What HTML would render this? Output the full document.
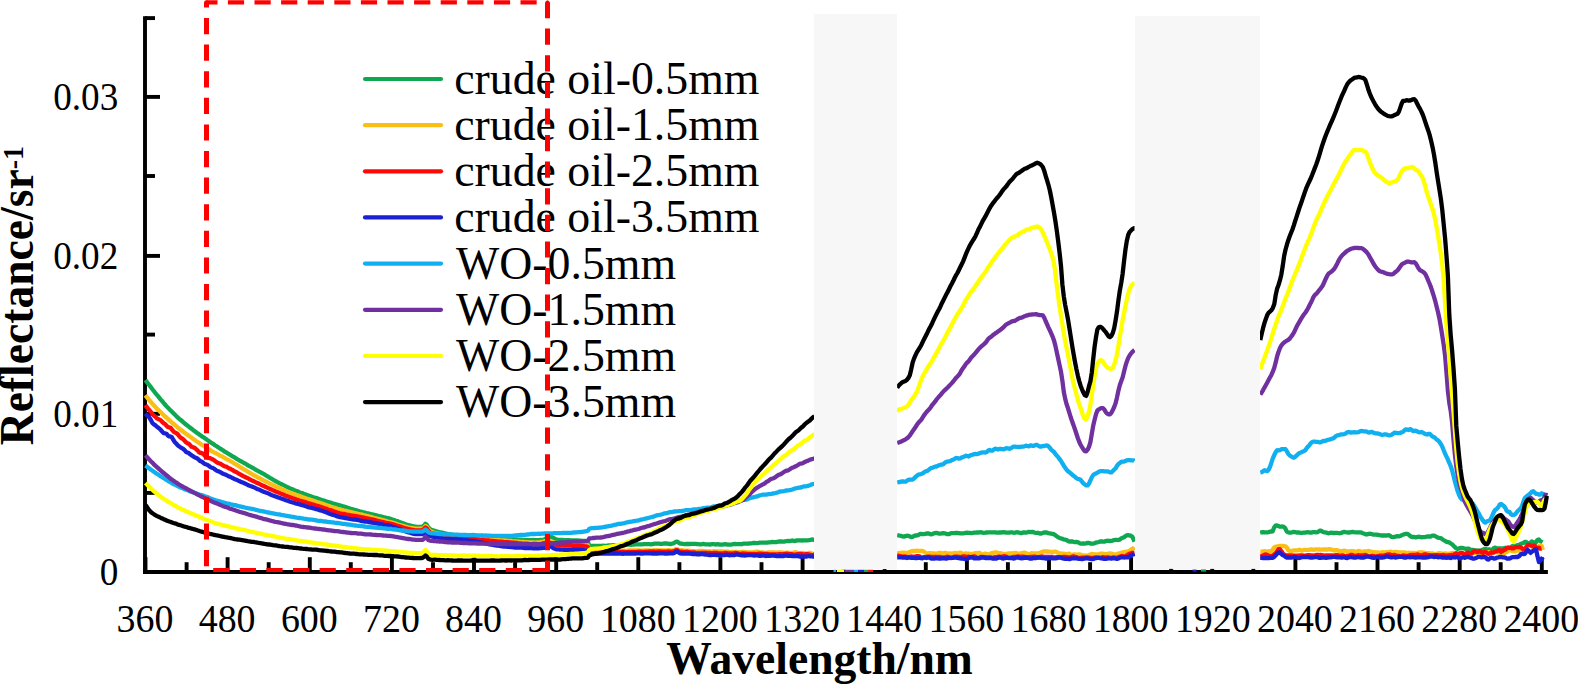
<!DOCTYPE html>
<html lang="en"><head><meta charset="utf-8"><title>Reflectance spectra</title>
<style>
html,body{margin:0;padding:0;background:#fff;}
body{width:1578px;height:684px;overflow:hidden;}
svg{display:block;}
svg text{font-family:"Liberation Serif","Times New Roman",serif;fill:#000;}
.tick text{font-size:37.9px;}
.legend text{font-size:45.8px;}
.title{font-size:45.6px;font-weight:bold;}
</style></head><body>
<svg width="1578" height="684" viewBox="0 0 1578 684">
<rect width="1578" height="684" fill="#fff"/>
<g stroke="#000" stroke-width="3.9" fill="none">
<line x1="145.5" y1="557.2" x2="145.5" y2="572.0"/>
<line x1="186.6" y1="562.2" x2="186.6" y2="572.0"/>
<line x1="227.6" y1="557.2" x2="227.6" y2="572.0"/>
<line x1="268.7" y1="562.2" x2="268.7" y2="572.0"/>
<line x1="309.8" y1="557.2" x2="309.8" y2="572.0"/>
<line x1="350.8" y1="562.2" x2="350.8" y2="572.0"/>
<line x1="391.9" y1="557.2" x2="391.9" y2="572.0"/>
<line x1="433.0" y1="562.2" x2="433.0" y2="572.0"/>
<line x1="474.0" y1="557.2" x2="474.0" y2="572.0"/>
<line x1="515.1" y1="562.2" x2="515.1" y2="572.0"/>
<line x1="556.2" y1="557.2" x2="556.2" y2="572.0"/>
<line x1="597.2" y1="562.2" x2="597.2" y2="572.0"/>
<line x1="638.3" y1="557.2" x2="638.3" y2="572.0"/>
<line x1="679.4" y1="562.2" x2="679.4" y2="572.0"/>
<line x1="720.4" y1="557.2" x2="720.4" y2="572.0"/>
<line x1="761.5" y1="562.2" x2="761.5" y2="572.0"/>
<line x1="802.6" y1="557.2" x2="802.6" y2="572.0"/>
<line x1="843.6" y1="562.2" x2="843.6" y2="572.0"/>
<line x1="884.7" y1="557.2" x2="884.7" y2="572.0"/>
<line x1="925.8" y1="562.2" x2="925.8" y2="572.0"/>
<line x1="966.9" y1="557.2" x2="966.9" y2="572.0"/>
<line x1="1007.9" y1="562.2" x2="1007.9" y2="572.0"/>
<line x1="1049.0" y1="557.2" x2="1049.0" y2="572.0"/>
<line x1="1090.1" y1="562.2" x2="1090.1" y2="572.0"/>
<line x1="1131.1" y1="557.2" x2="1131.1" y2="572.0"/>
<line x1="1172.2" y1="562.2" x2="1172.2" y2="572.0"/>
<line x1="1213.3" y1="557.2" x2="1213.3" y2="572.0"/>
<line x1="1254.3" y1="562.2" x2="1254.3" y2="572.0"/>
<line x1="1295.4" y1="557.2" x2="1295.4" y2="572.0"/>
<line x1="1336.5" y1="562.2" x2="1336.5" y2="572.0"/>
<line x1="1377.5" y1="557.2" x2="1377.5" y2="572.0"/>
<line x1="1418.6" y1="562.2" x2="1418.6" y2="572.0"/>
<line x1="1459.7" y1="557.2" x2="1459.7" y2="572.0"/>
<line x1="1500.7" y1="562.2" x2="1500.7" y2="572.0"/>
<line x1="1541.8" y1="557.2" x2="1541.8" y2="572.0"/>
<line x1="145" y1="492.9" x2="155" y2="492.9"/>
<line x1="145" y1="413.8" x2="160" y2="413.8"/>
<line x1="145" y1="334.6" x2="155" y2="334.6"/>
<line x1="145" y1="255.9" x2="160" y2="255.9"/>
<line x1="145" y1="176.0" x2="155" y2="176.0"/>
<line x1="145" y1="96.9" x2="160" y2="96.9"/>
<line x1="145" y1="18.1" x2="155" y2="18.1"/>
<line x1="143.05" y1="572.0" x2="1547.9" y2="572.0"/>
<line x1="145" y1="16.15" x2="145" y2="573.95"/>
</g>
<g fill="none" stroke-width="4.3" stroke-linejoin="round" stroke-linecap="butt">
<path d="M145.4,380.0 L146.8,381.9 L148.2,383.7 L149.6,385.5 L151.0,387.4 L152.4,389.2 L153.8,391.0 L155.2,392.8 L156.6,394.5 L158.0,396.2 L159.4,397.9 L160.8,399.6 L162.2,401.2 L163.6,402.9 L165.0,404.5 L166.4,406.1 L167.8,407.6 L169.2,409.0 L170.6,410.4 L172.0,411.8 L173.4,413.2 L174.8,414.6 L176.2,416.0 L177.6,417.3 L179.0,418.6 L180.4,419.7 L181.8,420.8 L183.2,422.1 L184.6,423.3 L186.0,424.5 L187.4,425.5 L188.8,426.6 L190.2,427.7 L191.6,428.8 L193.0,429.9 L194.4,430.9 L195.8,432.0 L197.2,433.0 L198.6,433.9 L200.0,434.9 L201.4,435.9 L202.8,436.9 L204.2,437.8 L205.6,438.8 L207.0,439.8 L208.4,440.7 L209.8,441.7 L211.2,442.7 L212.6,443.6 L214.0,444.6 L215.4,445.5 L216.8,446.3 L218.2,447.3 L219.6,448.2 L221.0,449.1 L222.4,450.0 L223.8,450.9 L225.2,451.9 L226.6,452.7 L228.0,453.5 L229.4,454.4 L230.8,455.2 L232.2,456.1 L233.6,456.9 L235.0,457.7 L236.4,458.6 L237.8,459.5 L239.2,460.3 L240.6,461.0 L242.0,461.8 L243.4,462.7 L244.8,463.4 L246.2,464.2 L247.6,465.1 L249.0,466.0 L250.4,466.7 L251.8,467.4 L253.2,468.2 L254.6,469.0 L256.0,469.9 L257.4,470.6 L258.8,471.3 L260.2,472.1 L261.6,472.9 L263.0,473.7 L264.4,474.4 L265.8,475.3 L267.2,476.1 L268.6,477.0 L270.0,477.9 L271.4,478.6 L272.8,479.5 L274.2,480.3 L275.6,481.1 L277.0,481.9 L278.4,482.6 L279.8,483.4 L281.2,484.1 L282.6,484.7 L284.0,485.4 L285.4,486.1 L286.8,486.8 L288.2,487.5 L289.6,488.2 L291.0,488.7 L292.4,489.2 L293.8,489.9 L295.2,490.5 L296.6,491.0 L298.0,491.6 L299.4,492.2 L300.8,492.7 L302.2,493.1 L303.6,493.7 L305.0,494.2 L306.4,494.7 L307.8,495.2 L309.2,495.7 L310.6,496.2 L312.0,496.7 L313.4,497.2 L314.8,497.6 L316.2,498.0 L317.6,498.4 L319.0,498.9 L320.4,499.4 L321.8,499.9 L323.2,500.4 L324.6,500.8 L326.0,501.3 L327.4,501.7 L328.8,502.2 L330.2,502.5 L331.6,502.9 L333.0,503.4 L334.4,503.9 L335.8,504.2 L337.2,504.6 L338.6,504.9 L340.0,505.4 L341.4,505.8 L342.8,506.2 L344.2,506.6 L345.6,507.0 L347.0,507.5 L348.4,507.9 L349.8,508.4 L351.2,508.9 L352.6,509.3 L354.0,509.7 L355.4,510.0 L356.8,510.4 L358.2,510.9 L359.6,511.3 L361.0,511.6 L362.4,512.0 L363.8,512.3 L365.2,512.7 L366.6,513.1 L368.0,513.4 L369.4,513.7 L370.8,514.1 L372.2,514.5 L373.6,514.7 L375.0,515.0 L376.4,515.3 L377.8,515.7 L379.2,516.1 L380.6,516.4 L382.0,516.7 L383.4,517.1 L384.8,517.4 L386.2,517.8 L387.6,518.1 L389.0,518.4 L390.4,518.8 L391.8,519.3 L393.2,519.7 L394.6,520.2 L396.0,520.7 L397.4,521.1 L398.8,521.7 L400.2,522.2 L401.6,522.7 L403.0,523.2 L404.4,523.8 L405.8,524.3 L407.2,524.7 L408.6,525.1 L410.0,525.4 L411.4,525.8 L412.8,526.2 L414.2,526.5 L415.6,526.6 L417.0,526.8 L418.4,526.9 L419.8,526.9 L421.2,526.8 L422.6,526.6 L424.0,525.6 L425.4,523.7 L426.8,524.7 L428.2,527.2 L429.6,528.6 L431.0,529.7 L432.4,530.2 L433.8,530.5 L435.2,530.9 L436.6,531.4 L438.0,531.8 L439.4,532.2 L440.8,532.5 L442.2,532.7 L443.6,533.0 L445.0,533.4 L446.4,533.8 L447.8,534.0 L449.2,534.3 L450.6,534.4 L452.0,534.6 L453.4,534.9 L454.8,535.1 L456.2,535.3 L457.6,535.5 L459.0,535.8 L460.4,535.9 L461.8,536.0 L463.2,536.1 L464.6,536.2 L466.0,536.4 L467.4,536.6 L468.8,536.7 L470.2,536.9 L471.6,537.1 L473.0,537.2 L474.4,537.2 L475.8,537.3 L477.2,537.4 L478.6,537.5 L480.0,537.5 L481.4,537.7 L482.8,537.8 L484.2,537.9 L485.6,538.0 L487.0,538.1 L488.4,538.2 L489.8,538.2 L491.2,538.1 L492.6,538.2 L494.0,538.2 L495.4,538.2 L496.8,538.4 L498.2,538.7 L499.6,538.7 L501.0,538.6 L502.4,538.7 L503.8,538.9 L505.2,539.0 L506.6,539.0 L508.0,539.1 L509.4,539.2 L510.8,539.3 L512.2,539.3 L513.6,539.3 L515.0,539.4 L516.4,539.5 L517.8,539.6 L519.2,539.6 L520.6,539.7 L522.0,539.7 L523.4,539.8 L524.8,539.9 L526.2,540.1 L527.6,540.1 L529.0,540.1 L530.4,540.1 L531.8,540.1 L533.2,540.0 L534.6,540.1 L536.0,540.2 L537.4,540.2 L538.8,540.1 L540.2,540.0 L541.6,540.0 L543.0,539.8 L544.4,539.5 L545.8,538.4 L547.2,537.2 L548.6,536.9 L550.0,536.9 L551.4,537.1 L552.8,537.6 L554.2,538.4 L555.6,539.2 L557.0,539.7 L558.4,539.8 L559.8,539.8 L561.2,539.9 L562.6,540.0 L564.0,540.1 L565.4,540.2 L566.8,540.2 L568.2,540.2 L569.6,540.2 L571.0,540.3 L572.4,540.5 L573.8,540.5 L575.2,540.5 L576.6,540.5 L578.0,540.5 L579.4,540.6 L580.8,540.7 L582.2,540.8 L583.6,540.9 L585.0,541.0 L586.4,541.2 L587.8,541.6 L589.2,545.5 L590.6,545.8 L592.0,545.8 L593.4,545.8 L594.8,545.9 L596.2,545.9 L597.6,545.8 L599.0,545.8 L600.4,545.8 L601.8,545.8 L603.2,545.7 L604.6,545.8 L606.0,545.8 L607.4,545.6 L608.8,545.5 L610.2,545.4 L611.6,545.3 L613.0,545.2 L614.4,545.2 L615.8,545.2 L617.2,545.2 L618.6,545.2 L620.0,545.2 L621.4,545.1 L622.8,545.1 L624.2,545.1 L625.6,544.9 L627.0,544.7 L628.4,544.6 L629.8,544.7 L631.2,544.8 L632.6,544.7 L634.0,544.5 L635.4,544.3 L636.8,544.4 L638.2,544.4 L639.6,544.4 L641.0,544.3 L642.4,544.3 L643.8,544.2 L645.2,544.2 L646.6,544.1 L648.0,544.1 L649.4,544.2 L650.8,544.3 L652.2,544.1 L653.6,543.9 L655.0,543.7 L656.4,543.7 L657.8,543.6 L659.2,543.6 L660.6,543.8 L662.0,543.9 L663.4,543.7 L664.8,543.5 L666.2,543.5 L667.6,543.6 L669.0,543.9 L670.4,544.0 L671.8,543.8 L673.2,543.4 L674.6,542.6 L676.0,541.7 L677.4,541.7 L678.8,542.8 L680.2,543.5 L681.6,543.6 L683.0,543.9 L684.4,544.1 L685.8,544.0 L687.2,543.9 L688.6,544.0 L690.0,544.0 L691.4,543.9 L692.8,543.9 L694.2,543.8 L695.6,543.9 L697.0,544.2 L698.4,544.2 L699.8,544.3 L701.2,544.3 L702.6,544.0 L704.0,544.0 L705.4,544.3 L706.8,544.4 L708.2,544.4 L709.6,544.5 L711.0,544.4 L712.4,544.1 L713.8,544.2 L715.2,544.5 L716.6,544.4 L718.0,544.2 L719.4,544.5 L720.8,544.7 L722.2,544.6 L723.6,544.4 L725.0,544.2 L726.4,544.4 L727.8,544.7 L729.2,544.7 L730.6,544.6 L732.0,544.4 L733.4,544.1 L734.8,543.9 L736.2,544.1 L737.6,544.2 L739.0,544.1 L740.4,544.2 L741.8,544.1 L743.2,543.7 L744.6,543.6 L746.0,543.7 L747.4,543.6 L748.8,543.5 L750.2,543.3 L751.6,543.3 L753.0,543.0 L754.4,543.0 L755.8,543.2 L757.2,543.2 L758.6,542.8 L760.0,542.7 L761.4,542.6 L762.8,542.6 L764.2,542.7 L765.6,542.7 L767.0,542.7 L768.4,542.4 L769.8,542.3 L771.2,542.1 L772.6,542.0 L774.0,542.1 L775.4,542.1 L776.8,542.0 L778.2,541.7 L779.6,541.5 L781.0,541.5 L782.4,541.7 L783.8,541.6 L785.2,541.3 L786.6,541.1 L788.0,541.0 L789.4,541.1 L790.8,540.8 L792.2,540.5 L793.6,540.9 L795.0,541.0 L796.4,540.5 L797.8,540.3 L799.2,540.3 L800.6,540.4 L802.0,540.5 L803.4,540.3 L804.8,540.3 L806.2,540.4 L807.6,540.3 L809.0,540.2 L810.4,539.9 L811.8,539.5 L813.2,539.7 L814.5,540.2" stroke="#0FA850"/>
<path d="M897.1,535.0 L898.5,535.4 L899.9,535.7 L901.3,535.9 L902.7,536.4 L904.1,536.7 L905.5,536.1 L906.9,535.7 L908.3,535.9 L909.7,536.3 L911.1,537.0 L912.5,536.9 L913.9,536.0 L915.3,535.4 L916.7,535.5 L918.1,535.1 L919.5,534.2 L920.9,534.0 L922.3,534.1 L923.7,534.1 L925.1,533.9 L926.5,533.5 L927.9,533.3 L929.3,533.6 L930.7,534.3 L932.1,534.2 L933.5,533.6 L934.9,533.1 L936.3,532.9 L937.7,533.2 L939.1,533.6 L940.5,533.6 L941.9,533.4 L943.3,533.2 L944.7,533.3 L946.1,533.7 L947.5,534.2 L948.9,534.2 L950.3,533.6 L951.7,533.1 L953.1,533.2 L954.5,533.1 L955.9,533.0 L957.3,533.0 L958.7,533.1 L960.1,533.3 L961.5,533.4 L962.9,533.3 L964.3,533.1 L965.7,532.8 L967.1,532.7 L968.5,532.8 L969.9,532.9 L971.3,533.1 L972.7,532.9 L974.1,532.6 L975.5,532.6 L976.9,532.5 L978.3,532.5 L979.7,532.4 L981.1,532.2 L982.5,532.6 L983.9,532.8 L985.3,532.7 L986.7,532.5 L988.1,532.4 L989.5,532.3 L990.9,532.3 L992.3,532.4 L993.7,532.4 L995.1,532.3 L996.5,532.5 L997.9,532.6 L999.3,532.5 L1000.7,532.5 L1002.1,532.4 L1003.5,532.2 L1004.9,532.4 L1006.3,532.7 L1007.7,532.7 L1009.1,532.6 L1010.5,532.3 L1011.9,532.4 L1013.3,532.7 L1014.7,532.8 L1016.1,532.4 L1017.5,532.2 L1018.9,532.6 L1020.3,533.1 L1021.7,533.1 L1023.1,532.5 L1024.5,532.3 L1025.9,532.6 L1027.3,532.3 L1028.7,531.8 L1030.1,532.1 L1031.5,532.0 L1032.9,531.9 L1034.3,532.5 L1035.7,532.9 L1037.1,532.8 L1038.5,533.0 L1039.9,533.6 L1041.3,533.5 L1042.7,533.0 L1044.1,532.5 L1045.5,532.3 L1046.9,532.6 L1048.3,533.2 L1049.7,533.4 L1051.1,533.7 L1052.5,533.9 L1053.9,534.2 L1055.3,535.1 L1056.7,536.3 L1058.1,537.2 L1059.5,538.0 L1060.9,538.4 L1062.3,538.8 L1063.7,539.4 L1065.1,539.6 L1066.5,540.0 L1067.9,540.9 L1069.3,541.5 L1070.7,541.5 L1072.1,541.4 L1073.5,541.8 L1074.9,542.1 L1076.3,542.0 L1077.7,542.1 L1079.1,542.9 L1080.5,543.6 L1081.9,543.6 L1083.3,543.4 L1084.7,543.6 L1086.1,543.4 L1087.5,542.8 L1088.9,543.0 L1090.3,543.5 L1091.7,543.6 L1093.1,543.6 L1094.5,543.2 L1095.9,542.6 L1097.3,542.3 L1098.7,542.0 L1100.1,541.5 L1101.5,541.4 L1102.9,541.7 L1104.3,541.7 L1105.7,541.1 L1107.1,540.7 L1108.5,540.9 L1109.9,541.0 L1111.3,540.9 L1112.7,540.6 L1114.1,540.1 L1115.5,539.8 L1116.9,539.9 L1118.3,540.0 L1119.7,539.6 L1121.1,538.5 L1122.5,537.8 L1123.9,537.4 L1125.3,536.3 L1126.7,535.3 L1128.1,535.2 L1129.5,535.5 L1130.9,535.7 L1132.3,536.7 L1133.7,539.6 L1134.5,541.6" stroke="#0FA850"/>
<path d="M1260.1,532.7 L1261.5,532.3 L1262.9,532.1 L1264.3,532.3 L1265.7,532.3 L1267.1,532.4 L1268.5,532.1 L1269.9,531.7 L1271.3,531.5 L1272.7,531.3 L1274.1,527.6 L1275.5,525.7 L1276.9,525.4 L1278.3,526.0 L1279.7,526.7 L1281.1,526.7 L1282.5,526.5 L1283.9,526.9 L1285.3,528.3 L1286.7,531.5 L1288.1,532.3 L1289.5,532.7 L1290.9,532.7 L1292.3,532.3 L1293.7,531.9 L1295.1,532.1 L1296.5,532.6 L1297.9,532.5 L1299.3,532.5 L1300.7,532.8 L1302.1,532.8 L1303.5,532.7 L1304.9,532.6 L1306.3,532.3 L1307.7,532.2 L1309.1,532.3 L1310.5,532.6 L1311.9,532.5 L1313.3,532.1 L1314.7,532.1 L1316.1,532.3 L1317.5,532.1 L1318.9,531.2 L1320.3,530.6 L1321.7,531.1 L1323.1,532.0 L1324.5,532.3 L1325.9,532.3 L1327.3,533.0 L1328.7,533.3 L1330.1,532.9 L1331.5,532.7 L1332.9,533.0 L1334.3,533.0 L1335.7,532.8 L1337.1,532.8 L1338.5,533.2 L1339.9,533.3 L1341.3,532.9 L1342.7,532.3 L1344.1,531.9 L1345.5,532.2 L1346.9,532.4 L1348.3,532.5 L1349.7,532.5 L1351.1,532.1 L1352.5,531.9 L1353.9,532.2 L1355.3,532.3 L1356.7,532.3 L1358.1,532.4 L1359.5,532.3 L1360.9,532.3 L1362.3,533.0 L1363.7,533.6 L1365.1,534.1 L1366.5,534.5 L1367.9,534.1 L1369.3,533.7 L1370.7,533.9 L1372.1,534.2 L1373.5,534.6 L1374.9,534.7 L1376.3,534.6 L1377.7,534.9 L1379.1,535.0 L1380.5,535.3 L1381.9,535.5 L1383.3,535.5 L1384.7,535.5 L1386.1,535.5 L1387.5,535.3 L1388.9,535.2 L1390.3,535.9 L1391.7,536.9 L1393.1,537.2 L1394.5,536.9 L1395.9,536.4 L1397.3,536.2 L1398.7,536.4 L1400.1,536.0 L1401.5,535.3 L1402.9,534.8 L1404.3,534.3 L1405.7,533.9 L1407.1,533.8 L1408.5,534.4 L1409.9,535.8 L1411.3,536.9 L1412.7,537.0 L1414.1,537.0 L1415.5,537.4 L1416.9,537.2 L1418.3,536.7 L1419.7,536.9 L1421.1,537.3 L1422.5,537.1 L1423.9,537.1 L1425.3,537.1 L1426.7,536.6 L1428.1,536.3 L1429.5,536.5 L1430.9,536.5 L1432.3,535.7 L1433.7,535.6 L1435.1,536.1 L1436.5,536.8 L1437.9,537.6 L1439.3,537.9 L1440.7,538.1 L1442.1,539.1 L1443.5,540.0 L1444.9,540.8 L1446.3,541.8 L1447.7,542.0 L1449.1,542.4 L1450.5,543.3 L1451.9,544.2 L1453.3,545.5 L1454.7,546.9 L1456.1,548.2 L1457.5,549.0 L1458.9,548.5 L1460.3,547.8 L1461.7,548.0 L1463.1,548.2 L1464.5,548.5 L1465.9,549.1 L1467.3,548.7 L1468.7,548.6 L1470.1,549.5 L1471.5,549.9 L1472.9,550.0 L1474.3,550.2 L1475.7,550.3 L1477.1,550.4 L1478.5,550.7 L1479.9,550.6 L1481.3,550.3 L1482.7,549.8 L1484.1,549.0 L1485.5,549.1 L1486.9,549.6 L1488.3,549.3 L1489.7,549.3 L1491.1,550.1 L1492.5,549.6 L1493.9,548.0 L1495.3,547.6 L1496.7,548.3 L1498.1,548.5 L1499.5,548.3 L1500.9,548.3 L1502.3,548.3 L1503.7,548.3 L1505.1,547.9 L1506.5,548.2 L1507.9,549.7 L1509.3,549.7 L1510.7,547.6 L1512.1,546.2 L1513.5,546.5 L1514.9,546.5 L1516.3,545.5 L1517.7,545.1 L1519.1,545.1 L1520.5,544.1 L1521.9,543.6 L1523.3,543.1 L1524.7,541.9 L1526.1,542.0 L1527.5,543.2 L1528.9,543.8 L1530.3,542.8 L1531.7,541.4 L1533.1,542.2 L1534.5,543.4 L1535.9,542.4 L1537.3,540.1 L1538.7,539.4 L1540.1,541.0 L1541.5,541.8 L1542.5,542.4" stroke="#0FA850"/>
<path d="M145.4,395.3 L146.8,397.1 L148.2,398.8 L149.6,400.5 L151.0,402.1 L152.4,403.7 L153.8,405.2 L155.2,406.7 L156.6,408.3 L158.0,409.7 L159.4,411.0 L160.8,412.3 L162.2,413.7 L163.6,415.1 L165.0,416.3 L166.4,417.5 L167.8,418.8 L169.2,420.1 L170.6,421.4 L172.0,422.6 L173.4,423.8 L174.8,424.9 L176.2,426.0 L177.6,427.3 L179.0,428.5 L180.4,429.5 L181.8,430.5 L183.2,431.7 L184.6,432.7 L186.0,433.7 L187.4,434.7 L188.8,435.8 L190.2,436.8 L191.6,437.8 L193.0,438.8 L194.4,439.8 L195.8,440.8 L197.2,441.7 L198.6,442.6 L200.0,443.6 L201.4,444.6 L202.8,445.4 L204.2,446.3 L205.6,447.3 L207.0,448.1 L208.4,448.9 L209.8,449.8 L211.2,450.7 L212.6,451.6 L214.0,452.3 L215.4,453.0 L216.8,453.7 L218.2,454.5 L219.6,455.3 L221.0,456.0 L222.4,456.7 L223.8,457.5 L225.2,458.3 L226.6,459.1 L228.0,459.8 L229.4,460.5 L230.8,461.3 L232.2,462.2 L233.6,463.0 L235.0,463.8 L236.4,464.6 L237.8,465.4 L239.2,466.4 L240.6,467.3 L242.0,468.1 L243.4,469.0 L244.8,469.9 L246.2,470.7 L247.6,471.5 L249.0,472.4 L250.4,473.2 L251.8,474.0 L253.2,474.8 L254.6,475.5 L256.0,476.3 L257.4,477.1 L258.8,477.8 L260.2,478.5 L261.6,479.3 L263.0,480.1 L264.4,480.8 L265.8,481.5 L267.2,482.2 L268.6,482.9 L270.0,483.6 L271.4,484.3 L272.8,485.0 L274.2,485.6 L275.6,486.3 L277.0,487.0 L278.4,487.6 L279.8,488.2 L281.2,488.9 L282.6,489.5 L284.0,490.1 L285.4,490.8 L286.8,491.4 L288.2,491.9 L289.6,492.5 L291.0,493.0 L292.4,493.5 L293.8,494.0 L295.2,494.6 L296.6,495.1 L298.0,495.4 L299.4,495.9 L300.8,496.5 L302.2,497.1 L303.6,497.5 L305.0,498.0 L306.4,498.5 L307.8,499.0 L309.2,499.4 L310.6,499.8 L312.0,500.2 L313.4,500.7 L314.8,501.2 L316.2,501.7 L317.6,502.2 L319.0,502.6 L320.4,503.1 L321.8,503.5 L323.2,503.9 L324.6,504.4 L326.0,505.0 L327.4,505.5 L328.8,506.0 L330.2,506.5 L331.6,507.0 L333.0,507.4 L334.4,507.8 L335.8,508.3 L337.2,508.8 L338.6,509.1 L340.0,509.5 L341.4,509.9 L342.8,510.2 L344.2,510.6 L345.6,510.9 L347.0,511.2 L348.4,511.5 L349.8,511.8 L351.2,512.2 L352.6,512.5 L354.0,512.8 L355.4,513.2 L356.8,513.5 L358.2,513.9 L359.6,514.2 L361.0,514.4 L362.4,514.7 L363.8,515.2 L365.2,515.5 L366.6,515.9 L368.0,516.2 L369.4,516.5 L370.8,516.9 L372.2,517.2 L373.6,517.7 L375.0,518.1 L376.4,518.4 L377.8,518.9 L379.2,519.2 L380.6,519.5 L382.0,519.8 L383.4,520.2 L384.8,520.6 L386.2,521.0 L387.6,521.5 L389.0,521.8 L390.4,522.1 L391.8,522.5 L393.2,522.9 L394.6,523.3 L396.0,523.8 L397.4,524.3 L398.8,524.7 L400.2,525.1 L401.6,525.5 L403.0,525.9 L404.4,526.3 L405.8,526.7 L407.2,527.1 L408.6,527.5 L410.0,527.8 L411.4,528.0 L412.8,528.2 L414.2,528.5 L415.6,528.6 L417.0,528.7 L418.4,528.7 L419.8,528.7 L421.2,528.7 L422.6,528.7 L424.0,527.8 L425.4,526.0 L426.8,526.9 L428.2,529.2 L429.6,530.4 L431.0,531.4 L432.4,532.0 L433.8,532.5 L435.2,532.9 L436.6,533.2 L438.0,533.5 L439.4,533.8 L440.8,534.1 L442.2,534.4 L443.6,534.8 L445.0,535.1 L446.4,535.4 L447.8,535.8 L449.2,535.9 L450.6,536.1 L452.0,536.3 L453.4,536.5 L454.8,536.6 L456.2,536.7 L457.6,536.9 L459.0,537.1 L460.4,537.3 L461.8,537.3 L463.2,537.5 L464.6,537.7 L466.0,537.8 L467.4,538.0 L468.8,538.1 L470.2,538.3 L471.6,538.4 L473.0,538.4 L474.4,538.6 L475.8,538.7 L477.2,538.9 L478.6,539.0 L480.0,539.0 L481.4,539.1 L482.8,539.3 L484.2,539.4 L485.6,539.5 L487.0,539.7 L488.4,539.8 L489.8,539.7 L491.2,539.8 L492.6,540.0 L494.0,540.1 L495.4,540.1 L496.8,540.1 L498.2,540.2 L499.6,540.2 L501.0,540.4 L502.4,540.5 L503.8,540.5 L505.2,540.6 L506.6,540.6 L508.0,540.8 L509.4,540.9 L510.8,541.0 L512.2,541.2 L513.6,541.3 L515.0,541.4 L516.4,541.5 L517.8,541.6 L519.2,541.7 L520.6,541.8 L522.0,541.9 L523.4,542.0 L524.8,542.2 L526.2,542.2 L527.6,542.2 L529.0,542.3 L530.4,542.4 L531.8,542.5 L533.2,542.5 L534.6,542.6 L536.0,542.5 L537.4,542.4 L538.8,542.4 L540.2,542.2 L541.6,541.9 L543.0,541.6 L544.4,541.2 L545.8,540.8 L547.2,540.6 L548.6,540.7 L550.0,540.9 L551.4,541.3 L552.8,541.9 L554.2,542.5 L555.6,542.8 L557.0,543.1 L558.4,543.2 L559.8,543.4 L561.2,543.5 L562.6,543.6 L564.0,543.8 L565.4,543.9 L566.8,544.0 L568.2,544.2 L569.6,544.3 L571.0,544.3 L572.4,544.3 L573.8,544.4 L575.2,544.5 L576.6,544.6 L578.0,544.5 L579.4,544.4 L580.8,544.4 L582.2,544.5 L583.6,544.7 L585.0,544.8 L586.4,544.8 L587.8,545.3 L589.2,550.3 L590.6,550.6 L592.0,550.6 L593.4,550.5 L594.8,550.4 L596.2,550.5 L597.6,550.6 L599.0,550.5 L600.4,550.5 L601.8,550.6 L603.2,550.6 L604.6,550.5 L606.0,550.6 L607.4,550.6 L608.8,550.5 L610.2,550.4 L611.6,550.5 L613.0,550.5 L614.4,550.5 L615.8,550.6 L617.2,550.7 L618.6,550.7 L620.0,550.6 L621.4,550.7 L622.8,550.7 L624.2,550.8 L625.6,550.7 L627.0,550.6 L628.4,550.6 L629.8,550.5 L631.2,550.5 L632.6,550.5 L634.0,550.5 L635.4,550.4 L636.8,550.3 L638.2,550.3 L639.6,550.5 L641.0,550.6 L642.4,550.6 L643.8,550.5 L645.2,550.4 L646.6,550.4 L648.0,550.4 L649.4,550.5 L650.8,550.6 L652.2,550.7 L653.6,550.4 L655.0,550.2 L656.4,550.2 L657.8,550.1 L659.2,550.3 L660.6,550.5 L662.0,550.4 L663.4,550.3 L664.8,550.4 L666.2,550.5 L667.6,550.4 L669.0,550.2 L670.4,550.3 L671.8,550.4 L673.2,550.5 L674.6,549.9 L676.0,549.1 L677.4,549.1 L678.8,550.1 L680.2,550.4 L681.6,550.2 L683.0,550.4 L684.4,550.6 L685.8,550.7 L687.2,550.8 L688.6,550.7 L690.0,550.8 L691.4,551.1 L692.8,551.2 L694.2,551.2 L695.6,551.3 L697.0,551.4 L698.4,551.1 L699.8,550.8 L701.2,550.9 L702.6,551.0 L704.0,551.1 L705.4,551.3 L706.8,551.5 L708.2,551.3 L709.6,551.3 L711.0,551.6 L712.4,551.4 L713.8,551.2 L715.2,551.4 L716.6,551.5 L718.0,551.4 L719.4,551.5 L720.8,551.4 L722.2,551.3 L723.6,551.6 L725.0,551.7 L726.4,551.6 L727.8,551.6 L729.2,551.9 L730.6,552.1 L732.0,552.0 L733.4,551.9 L734.8,551.9 L736.2,551.8 L737.6,552.0 L739.0,552.2 L740.4,552.2 L741.8,552.0 L743.2,551.8 L744.6,551.8 L746.0,552.1 L747.4,552.3 L748.8,552.4 L750.2,552.4 L751.6,552.5 L753.0,552.5 L754.4,552.2 L755.8,551.7 L757.2,551.6 L758.6,551.9 L760.0,552.3 L761.4,552.4 L762.8,552.5 L764.2,552.7 L765.6,552.8 L767.0,552.7 L768.4,552.4 L769.8,552.3 L771.2,552.4 L772.6,552.4 L774.0,552.4 L775.4,552.6 L776.8,552.7 L778.2,552.4 L779.6,552.3 L781.0,552.4 L782.4,552.6 L783.8,552.8 L785.2,552.8 L786.6,552.7 L788.0,552.6 L789.4,552.8 L790.8,552.8 L792.2,552.9 L793.6,552.7 L795.0,552.2 L796.4,552.4 L797.8,553.1 L799.2,553.4 L800.6,553.3 L802.0,552.9 L803.4,552.9 L804.8,553.5 L806.2,553.7 L807.6,553.3 L809.0,552.9 L810.4,552.9 L811.8,553.6 L813.2,554.1 L814.5,553.8" stroke="#F9BF14"/>
<path d="M897.1,553.5 L898.5,553.2 L899.9,553.0 L901.3,553.0 L902.7,552.7 L904.1,552.6 L905.5,553.0 L906.9,553.0 L908.3,552.6 L909.7,552.1 L911.1,551.3 L912.5,551.0 L913.9,551.1 L915.3,551.0 L916.7,550.7 L918.1,550.8 L919.5,550.9 L920.9,550.8 L922.3,550.9 L923.7,551.5 L925.1,552.5 L926.5,553.4 L927.9,553.7 L929.3,553.1 L930.7,553.1 L932.1,553.5 L933.5,553.4 L934.9,553.5 L936.3,553.8 L937.7,553.4 L939.1,552.8 L940.5,552.9 L941.9,553.3 L943.3,553.3 L944.7,552.9 L946.1,553.0 L947.5,553.5 L948.9,553.6 L950.3,553.4 L951.7,553.6 L953.1,553.4 L954.5,552.9 L955.9,553.1 L957.3,553.4 L958.7,552.9 L960.1,552.6 L961.5,553.1 L962.9,553.8 L964.3,553.7 L965.7,553.4 L967.1,553.7 L968.5,553.6 L969.9,553.7 L971.3,554.1 L972.7,553.9 L974.1,553.4 L975.5,553.2 L976.9,553.3 L978.3,552.9 L979.7,552.9 L981.1,554.0 L982.5,554.4 L983.9,553.9 L985.3,553.6 L986.7,554.0 L988.1,554.4 L989.5,554.1 L990.9,553.4 L992.3,553.0 L993.7,552.8 L995.1,552.4 L996.5,552.5 L997.9,553.0 L999.3,553.1 L1000.7,553.2 L1002.1,553.6 L1003.5,554.2 L1004.9,554.1 L1006.3,553.8 L1007.7,553.7 L1009.1,553.3 L1010.5,553.3 L1011.9,553.4 L1013.3,553.1 L1014.7,552.9 L1016.1,552.9 L1017.5,553.5 L1018.9,553.8 L1020.3,553.4 L1021.7,553.2 L1023.1,552.9 L1024.5,552.6 L1025.9,553.0 L1027.3,553.9 L1028.7,554.3 L1030.1,553.7 L1031.5,553.2 L1032.9,553.3 L1034.3,553.3 L1035.7,553.4 L1037.1,553.3 L1038.5,553.1 L1039.9,552.7 L1041.3,552.2 L1042.7,551.7 L1044.1,551.4 L1045.5,551.4 L1046.9,551.5 L1048.3,551.6 L1049.7,551.7 L1051.1,552.0 L1052.5,552.1 L1053.9,551.7 L1055.3,551.6 L1056.7,552.0 L1058.1,552.9 L1059.5,553.5 L1060.9,553.5 L1062.3,553.6 L1063.7,553.7 L1065.1,553.8 L1066.5,554.2 L1067.9,553.8 L1069.3,553.7 L1070.7,555.0 L1072.1,555.2 L1073.5,554.5 L1074.9,554.5 L1076.3,554.7 L1077.7,554.6 L1079.1,554.3 L1080.5,554.6 L1081.9,555.0 L1083.3,555.3 L1084.7,555.4 L1086.1,555.6 L1087.5,555.6 L1088.9,555.1 L1090.3,554.5 L1091.7,554.0 L1093.1,554.1 L1094.5,554.6 L1095.9,554.4 L1097.3,554.3 L1098.7,554.1 L1100.1,553.7 L1101.5,553.7 L1102.9,553.7 L1104.3,553.8 L1105.7,554.2 L1107.1,554.1 L1108.5,553.6 L1109.9,553.5 L1111.3,553.7 L1112.7,553.9 L1114.1,554.4 L1115.5,554.8 L1116.9,554.3 L1118.3,553.6 L1119.7,553.2 L1121.1,552.8 L1122.5,552.4 L1123.9,552.1 L1125.3,551.8 L1126.7,551.7 L1128.1,551.4 L1129.5,550.7 L1130.9,549.7 L1132.3,548.9 L1133.7,548.1 L1134.5,547.2" stroke="#F9BF14"/>
<path d="M1260.3,551.6 L1261.7,551.7 L1263.1,551.5 L1264.5,551.2 L1265.9,551.5 L1267.3,551.7 L1268.7,551.2 L1270.1,551.4 L1271.5,551.1 L1272.9,549.2 L1274.3,547.4 L1275.7,546.7 L1277.1,546.3 L1278.5,546.2 L1279.9,546.0 L1281.3,545.9 L1282.7,546.0 L1284.1,546.2 L1285.5,546.4 L1286.9,547.6 L1288.3,550.1 L1289.7,550.9 L1291.1,551.1 L1292.5,550.7 L1293.9,550.3 L1295.3,550.3 L1296.7,550.4 L1298.1,550.1 L1299.5,549.7 L1300.9,550.4 L1302.3,550.6 L1303.7,549.9 L1305.1,549.8 L1306.5,549.9 L1307.9,549.8 L1309.3,549.8 L1310.7,549.4 L1312.1,549.5 L1313.5,549.8 L1314.9,549.5 L1316.3,549.3 L1317.7,549.3 L1319.1,549.5 L1320.5,549.7 L1321.9,549.6 L1323.3,549.5 L1324.7,549.5 L1326.1,549.7 L1327.5,549.5 L1328.9,549.1 L1330.3,549.4 L1331.7,549.7 L1333.1,550.1 L1334.5,550.5 L1335.9,550.1 L1337.3,550.2 L1338.7,550.8 L1340.1,551.1 L1341.5,551.2 L1342.9,551.0 L1344.3,550.7 L1345.7,551.0 L1347.1,551.5 L1348.5,551.5 L1349.9,551.3 L1351.3,551.2 L1352.7,551.1 L1354.1,551.4 L1355.5,551.8 L1356.9,551.5 L1358.3,551.0 L1359.7,551.2 L1361.1,551.7 L1362.5,551.8 L1363.9,551.5 L1365.3,551.4 L1366.7,551.3 L1368.1,551.0 L1369.5,551.2 L1370.9,551.8 L1372.3,551.9 L1373.7,552.1 L1375.1,552.4 L1376.5,552.3 L1377.9,552.4 L1379.3,552.8 L1380.7,552.6 L1382.1,552.2 L1383.5,552.4 L1384.9,552.3 L1386.3,552.0 L1387.7,552.1 L1389.1,552.0 L1390.5,551.7 L1391.9,552.0 L1393.3,552.3 L1394.7,552.0 L1396.1,551.9 L1397.5,552.2 L1398.9,552.5 L1400.3,552.5 L1401.7,552.4 L1403.1,552.5 L1404.5,552.4 L1405.9,552.7 L1407.3,553.1 L1408.7,552.7 L1410.1,552.8 L1411.5,553.1 L1412.9,553.0 L1414.3,552.9 L1415.7,553.2 L1417.1,553.1 L1418.5,552.3 L1419.9,552.3 L1421.3,552.5 L1422.7,552.5 L1424.1,552.6 L1425.5,552.9 L1426.9,553.1 L1428.3,553.1 L1429.7,553.3 L1431.1,553.5 L1432.5,553.3 L1433.9,553.7 L1435.3,554.2 L1436.7,553.8 L1438.1,553.4 L1439.5,553.2 L1440.9,553.3 L1442.3,553.7 L1443.7,553.8 L1445.1,553.4 L1446.5,553.6 L1447.9,553.9 L1449.3,553.7 L1450.7,553.3 L1452.1,553.0 L1453.5,552.9 L1454.9,553.6 L1456.3,554.3 L1457.7,553.7 L1459.1,553.1 L1460.5,553.1 L1461.9,553.4 L1463.3,553.8 L1464.7,554.2 L1466.1,554.5 L1467.5,554.4 L1468.9,554.2 L1470.3,554.0 L1471.7,553.4 L1473.1,552.8 L1474.5,552.9 L1475.9,553.2 L1477.3,552.6 L1478.7,552.3 L1480.1,553.0 L1481.5,553.1 L1482.9,552.7 L1484.3,552.8 L1485.7,553.0 L1487.1,552.8 L1488.5,552.1 L1489.9,552.1 L1491.3,552.8 L1492.7,552.9 L1494.1,552.5 L1495.5,552.1 L1496.9,552.0 L1498.3,552.7 L1499.7,553.0 L1501.1,552.7 L1502.5,553.4 L1503.9,553.3 L1505.3,552.6 L1506.7,552.2 L1508.1,550.9 L1509.5,550.1 L1510.9,550.5 L1512.3,551.2 L1513.7,551.4 L1515.1,551.4 L1516.5,550.8 L1517.9,550.3 L1519.3,550.6 L1520.7,550.3 L1522.1,550.2 L1523.5,550.2 L1524.9,549.6 L1526.3,549.1 L1527.7,549.6 L1529.1,550.7 L1530.5,551.4 L1531.9,550.8 L1533.3,549.4 L1534.7,548.5 L1536.1,548.6 L1537.5,547.5 L1538.9,546.0 L1540.3,545.4 L1541.7,545.9 L1542.8,550.0" stroke="#F9BF14"/>
<path d="M145.4,405.1 L146.8,407.2 L148.2,408.9 L149.6,410.5 L151.0,412.1 L152.4,414.1 L153.8,415.5 L155.2,416.6 L156.6,418.1 L158.0,419.0 L159.4,419.5 L160.8,420.3 L162.2,421.9 L163.6,423.2 L165.0,424.0 L166.4,425.5 L167.8,427.0 L169.2,427.4 L170.6,427.8 L172.0,429.7 L173.4,431.4 L174.8,432.4 L176.2,433.1 L177.6,434.1 L179.0,435.8 L180.4,437.5 L181.8,438.4 L183.2,439.3 L184.6,440.7 L186.0,442.2 L187.4,443.2 L188.8,443.8 L190.2,445.2 L191.6,446.8 L193.0,447.2 L194.4,447.8 L195.8,448.9 L197.2,450.1 L198.6,451.7 L200.0,452.8 L201.4,452.9 L202.8,453.5 L204.2,455.1 L205.6,456.4 L207.0,457.1 L208.4,457.7 L209.8,458.1 L211.2,458.7 L212.6,459.3 L214.0,460.1 L215.4,461.2 L216.8,462.2 L218.2,463.1 L219.6,463.6 L221.0,464.1 L222.4,465.0 L223.8,465.9 L225.2,466.4 L226.6,466.8 L228.0,467.7 L229.4,468.6 L230.8,469.1 L232.2,469.8 L233.6,470.8 L235.0,471.5 L236.4,472.2 L237.8,473.0 L239.2,473.8 L240.6,474.6 L242.0,475.4 L243.4,476.2 L244.8,476.8 L246.2,477.5 L247.6,478.2 L249.0,479.0 L250.4,479.7 L251.8,480.4 L253.2,481.0 L254.6,481.7 L256.0,482.4 L257.4,483.0 L258.8,483.6 L260.2,484.4 L261.6,485.1 L263.0,485.7 L264.4,486.3 L265.8,486.9 L267.2,487.6 L268.6,488.3 L270.0,488.9 L271.4,489.5 L272.8,490.2 L274.2,490.8 L275.6,491.4 L277.0,492.0 L278.4,492.6 L279.8,493.1 L281.2,493.8 L282.6,494.3 L284.0,494.8 L285.4,495.5 L286.8,496.0 L288.2,496.5 L289.6,497.0 L291.0,497.5 L292.4,498.0 L293.8,498.4 L295.2,498.9 L296.6,499.5 L298.0,499.9 L299.4,500.4 L300.8,500.9 L302.2,501.2 L303.6,501.6 L305.0,502.0 L306.4,502.5 L307.8,503.0 L309.2,503.4 L310.6,503.8 L312.0,504.2 L313.4,504.6 L314.8,505.0 L316.2,505.5 L317.6,505.9 L319.0,506.3 L320.4,506.7 L321.8,507.2 L323.2,507.7 L324.6,508.2 L326.0,508.6 L327.4,509.2 L328.8,509.7 L330.2,510.1 L331.6,510.5 L333.0,511.1 L334.4,511.6 L335.8,512.0 L337.2,512.5 L338.6,512.9 L340.0,513.3 L341.4,513.6 L342.8,513.8 L344.2,514.0 L345.6,514.4 L347.0,514.7 L348.4,514.9 L349.8,515.1 L351.2,515.4 L352.6,515.6 L354.0,515.8 L355.4,516.0 L356.8,516.3 L358.2,516.5 L359.6,516.8 L361.0,517.1 L362.4,517.4 L363.8,517.7 L365.2,518.0 L366.6,518.3 L368.0,518.6 L369.4,518.9 L370.8,519.3 L372.2,519.5 L373.6,519.7 L375.0,520.1 L376.4,520.5 L377.8,520.9 L379.2,521.2 L380.6,521.5 L382.0,521.8 L383.4,522.1 L384.8,522.5 L386.2,522.9 L387.6,523.1 L389.0,523.4 L390.4,523.7 L391.8,524.0 L393.2,524.4 L394.6,524.8 L396.0,525.2 L397.4,525.7 L398.8,526.2 L400.2,526.5 L401.6,527.0 L403.0,527.5 L404.4,527.9 L405.8,528.4 L407.2,528.7 L408.6,529.0 L410.0,529.3 L411.4,529.6 L412.8,529.8 L414.2,530.1 L415.6,530.3 L417.0,530.4 L418.4,530.4 L419.8,530.4 L421.2,530.3 L422.6,530.1 L424.0,529.1 L425.4,527.5 L426.8,528.4 L428.2,530.6 L429.6,531.9 L431.0,532.9 L432.4,533.6 L433.8,533.9 L435.2,534.2 L436.6,534.5 L438.0,534.9 L439.4,535.1 L440.8,535.3 L442.2,535.6 L443.6,535.9 L445.0,536.1 L446.4,536.3 L447.8,536.5 L449.2,536.6 L450.6,536.7 L452.0,536.9 L453.4,537.1 L454.8,537.2 L456.2,537.3 L457.6,537.5 L459.0,537.6 L460.4,537.7 L461.8,537.7 L463.2,537.9 L464.6,538.0 L466.0,538.2 L467.4,538.3 L468.8,538.4 L470.2,538.6 L471.6,538.7 L473.0,539.0 L474.4,539.1 L475.8,539.2 L477.2,539.3 L478.6,539.5 L480.0,539.7 L481.4,539.8 L482.8,539.9 L484.2,540.1 L485.6,540.3 L487.0,540.4 L488.4,540.5 L489.8,540.7 L491.2,540.8 L492.6,540.9 L494.0,541.1 L495.4,541.2 L496.8,541.3 L498.2,541.5 L499.6,541.6 L501.0,541.6 L502.4,541.8 L503.8,542.0 L505.2,542.1 L506.6,542.1 L508.0,542.2 L509.4,542.3 L510.8,542.5 L512.2,542.6 L513.6,542.7 L515.0,542.8 L516.4,543.0 L517.8,543.2 L519.2,543.3 L520.6,543.5 L522.0,543.7 L523.4,543.8 L524.8,543.8 L526.2,543.9 L527.6,544.0 L529.0,544.2 L530.4,544.3 L531.8,544.2 L533.2,544.3 L534.6,544.4 L536.0,544.5 L537.4,544.6 L538.8,544.5 L540.2,544.1 L541.6,543.8 L543.0,543.4 L544.4,543.1 L545.8,542.9 L547.2,542.8 L548.6,542.6 L550.0,542.7 L551.4,543.2 L552.8,543.8 L554.2,544.2 L555.6,544.6 L557.0,545.0 L558.4,545.1 L559.8,545.2 L561.2,545.3 L562.6,545.4 L564.0,545.5 L565.4,545.5 L566.8,545.5 L568.2,545.6 L569.6,545.7 L571.0,545.7 L572.4,545.8 L573.8,545.9 L575.2,546.0 L576.6,546.0 L578.0,546.0 L579.4,546.1 L580.8,546.2 L582.2,546.2 L583.6,546.1 L585.0,546.3 L586.4,546.5 L587.8,547.1 L589.2,551.8 L590.6,552.1 L592.0,552.0 L593.4,552.0 L594.8,552.0 L596.2,552.0 L597.6,551.9 L599.0,552.1 L600.4,552.1 L601.8,551.9 L603.2,551.9 L604.6,552.0 L606.0,551.9 L607.4,551.8 L608.8,552.0 L610.2,552.0 L611.6,552.0 L613.0,552.1 L614.4,552.0 L615.8,551.9 L617.2,551.9 L618.6,551.8 L620.0,551.8 L621.4,551.9 L622.8,551.9 L624.2,551.9 L625.6,552.1 L627.0,552.1 L628.4,552.0 L629.8,552.0 L631.2,552.0 L632.6,552.0 L634.0,552.0 L635.4,551.9 L636.8,551.8 L638.2,551.6 L639.6,551.6 L641.0,551.7 L642.4,551.9 L643.8,551.9 L645.2,551.7 L646.6,551.7 L648.0,551.6 L649.4,551.5 L650.8,551.5 L652.2,551.5 L653.6,551.5 L655.0,551.6 L656.4,551.6 L657.8,551.5 L659.2,551.4 L660.6,551.5 L662.0,551.6 L663.4,551.6 L664.8,551.7 L666.2,551.7 L667.6,551.5 L669.0,551.5 L670.4,551.7 L671.8,551.7 L673.2,551.5 L674.6,550.8 L676.0,550.1 L677.4,550.2 L678.8,551.2 L680.2,551.6 L681.6,551.6 L683.0,551.8 L684.4,552.0 L685.8,551.9 L687.2,551.7 L688.6,552.0 L690.0,552.3 L691.4,552.5 L692.8,552.5 L694.2,552.5 L695.6,552.7 L697.0,552.8 L698.4,552.8 L699.8,552.8 L701.2,552.8 L702.6,552.7 L704.0,552.8 L705.4,552.7 L706.8,552.8 L708.2,552.9 L709.6,552.9 L711.0,553.1 L712.4,553.2 L713.8,553.0 L715.2,552.8 L716.6,553.0 L718.0,553.2 L719.4,553.3 L720.8,553.3 L722.2,553.3 L723.6,553.2 L725.0,553.0 L726.4,553.0 L727.8,553.3 L729.2,553.3 L730.6,553.4 L732.0,553.6 L733.4,553.3 L734.8,553.0 L736.2,553.0 L737.6,553.3 L739.0,553.8 L740.4,554.0 L741.8,553.7 L743.2,553.5 L744.6,553.6 L746.0,553.7 L747.4,553.9 L748.8,553.9 L750.2,553.8 L751.6,553.8 L753.0,553.8 L754.4,553.9 L755.8,554.1 L757.2,554.0 L758.6,553.7 L760.0,553.6 L761.4,553.7 L762.8,554.0 L764.2,554.0 L765.6,553.9 L767.0,554.0 L768.4,554.2 L769.8,554.3 L771.2,554.4 L772.6,554.5 L774.0,554.4 L775.4,554.4 L776.8,554.5 L778.2,554.4 L779.6,554.1 L781.0,554.2 L782.4,554.3 L783.8,554.0 L785.2,553.8 L786.6,553.7 L788.0,553.9 L789.4,554.2 L790.8,554.2 L792.2,554.2 L793.6,554.6 L795.0,554.6 L796.4,554.3 L797.8,554.1 L799.2,554.0 L800.6,554.0 L802.0,554.2 L803.4,554.4 L804.8,554.3 L806.2,554.1 L807.6,554.2 L809.0,554.3 L810.4,554.7 L811.8,555.1 L813.2,554.9 L814.5,554.6" stroke="#FF0808"/>
<path d="M897.1,555.9 L898.5,555.7 L899.9,556.0 L901.3,556.5 L902.7,556.6 L904.1,556.5 L905.5,556.6 L906.9,556.9 L908.3,557.1 L909.7,556.8 L911.1,556.5 L912.5,556.7 L913.9,556.9 L915.3,556.5 L916.7,556.2 L918.1,556.1 L919.5,556.4 L920.9,557.3 L922.3,557.7 L923.7,557.2 L925.1,557.2 L926.5,557.0 L927.9,556.6 L929.3,556.7 L930.7,556.8 L932.1,557.0 L933.5,557.2 L934.9,556.8 L936.3,556.9 L937.7,557.1 L939.1,556.9 L940.5,557.1 L941.9,557.3 L943.3,557.3 L944.7,557.3 L946.1,557.0 L947.5,556.7 L948.9,557.5 L950.3,558.1 L951.7,557.8 L953.1,557.3 L954.5,556.7 L955.9,556.6 L957.3,556.6 L958.7,556.8 L960.1,557.1 L961.5,556.9 L962.9,556.5 L964.3,556.4 L965.7,556.7 L967.1,556.9 L968.5,556.7 L969.9,557.0 L971.3,557.3 L972.7,556.8 L974.1,556.4 L975.5,556.8 L976.9,557.6 L978.3,557.9 L979.7,557.3 L981.1,556.8 L982.5,556.9 L983.9,557.1 L985.3,557.1 L986.7,557.5 L988.1,557.7 L989.5,557.3 L990.9,557.3 L992.3,557.6 L993.7,557.4 L995.1,557.1 L996.5,557.1 L997.9,556.9 L999.3,556.7 L1000.7,556.9 L1002.1,556.8 L1003.5,556.4 L1004.9,556.2 L1006.3,556.7 L1007.7,557.6 L1009.1,557.9 L1010.5,557.7 L1011.9,557.4 L1013.3,557.0 L1014.7,556.9 L1016.1,556.9 L1017.5,556.5 L1018.9,556.5 L1020.3,556.8 L1021.7,556.7 L1023.1,556.7 L1024.5,556.9 L1025.9,557.1 L1027.3,557.3 L1028.7,557.1 L1030.1,556.9 L1031.5,557.0 L1032.9,556.9 L1034.3,556.7 L1035.7,556.9 L1037.1,557.3 L1038.5,557.5 L1039.9,557.2 L1041.3,556.6 L1042.7,556.5 L1044.1,556.8 L1045.5,556.9 L1046.9,556.8 L1048.3,556.9 L1049.7,557.2 L1051.1,557.0 L1052.5,556.9 L1053.9,557.4 L1055.3,557.5 L1056.7,557.2 L1058.1,557.1 L1059.5,557.2 L1060.9,557.4 L1062.3,557.2 L1063.7,556.9 L1065.1,556.9 L1066.5,557.1 L1067.9,557.4 L1069.3,557.5 L1070.7,557.4 L1072.1,556.8 L1073.5,556.4 L1074.9,556.8 L1076.3,557.1 L1077.7,557.7 L1079.1,558.2 L1080.5,558.0 L1081.9,557.7 L1083.3,557.7 L1084.7,557.6 L1086.1,557.5 L1087.5,557.4 L1088.9,557.6 L1090.3,558.0 L1091.7,558.0 L1093.1,557.9 L1094.5,557.7 L1095.9,557.5 L1097.3,557.6 L1098.7,557.7 L1100.1,557.8 L1101.5,557.5 L1102.9,557.1 L1104.3,557.3 L1105.7,557.7 L1107.1,557.4 L1108.5,557.4 L1109.9,557.8 L1111.3,557.9 L1112.7,557.5 L1114.1,557.5 L1115.5,557.9 L1116.9,557.7 L1118.3,557.2 L1119.7,556.8 L1121.1,556.1 L1122.5,556.0 L1123.9,556.3 L1125.3,556.1 L1126.7,555.4 L1128.1,554.4 L1129.5,553.8 L1130.9,553.3 L1132.3,552.9 L1133.7,552.8 L1134.5,552.7" stroke="#FF0808"/>
<path d="M1260.3,556.5 L1261.7,556.2 L1263.1,555.4 L1264.5,554.8 L1265.9,554.4 L1267.3,554.9 L1268.7,555.6 L1270.1,555.9 L1271.5,555.9 L1272.9,555.5 L1274.3,554.4 L1275.7,553.2 L1277.1,551.2 L1278.5,549.1 L1279.9,549.2 L1281.3,551.0 L1282.7,553.2 L1284.1,554.6 L1285.5,555.2 L1286.9,555.3 L1288.3,555.3 L1289.7,555.5 L1291.1,555.5 L1292.5,555.5 L1293.9,555.6 L1295.3,555.6 L1296.7,555.7 L1298.1,555.6 L1299.5,555.4 L1300.9,555.4 L1302.3,555.5 L1303.7,555.6 L1305.1,555.6 L1306.5,555.5 L1307.9,555.2 L1309.3,555.2 L1310.7,555.4 L1312.1,555.4 L1313.5,555.6 L1314.9,555.5 L1316.3,555.0 L1317.7,554.9 L1319.1,555.1 L1320.5,555.0 L1321.9,555.2 L1323.3,555.5 L1324.7,555.6 L1326.1,555.5 L1327.5,555.5 L1328.9,555.4 L1330.3,555.3 L1331.7,555.5 L1333.1,555.7 L1334.5,555.5 L1335.9,555.2 L1337.3,555.1 L1338.7,555.4 L1340.1,555.6 L1341.5,555.4 L1342.9,555.3 L1344.3,555.9 L1345.7,556.3 L1347.1,555.8 L1348.5,555.6 L1349.9,555.3 L1351.3,554.8 L1352.7,555.1 L1354.1,555.5 L1355.5,555.8 L1356.9,555.5 L1358.3,555.2 L1359.7,555.3 L1361.1,555.4 L1362.5,555.3 L1363.9,555.2 L1365.3,555.0 L1366.7,555.3 L1368.1,556.0 L1369.5,556.3 L1370.9,556.1 L1372.3,555.9 L1373.7,556.1 L1375.1,556.3 L1376.5,556.3 L1377.9,556.1 L1379.3,555.7 L1380.7,555.6 L1382.1,555.6 L1383.5,555.6 L1384.9,555.5 L1386.3,554.9 L1387.7,554.5 L1389.1,554.5 L1390.5,554.7 L1391.9,555.1 L1393.3,555.2 L1394.7,555.0 L1396.1,555.5 L1397.5,555.9 L1398.9,555.9 L1400.3,556.4 L1401.7,556.2 L1403.1,555.5 L1404.5,555.6 L1405.9,555.8 L1407.3,555.8 L1408.7,555.7 L1410.1,555.1 L1411.5,554.8 L1412.9,554.8 L1414.3,554.9 L1415.7,554.9 L1417.1,554.5 L1418.5,554.7 L1419.9,555.3 L1421.3,555.5 L1422.7,555.0 L1424.1,554.4 L1425.5,554.4 L1426.9,554.8 L1428.3,555.0 L1429.7,555.1 L1431.1,555.4 L1432.5,555.3 L1433.9,555.1 L1435.3,555.2 L1436.7,555.2 L1438.1,555.2 L1439.5,555.5 L1440.9,555.4 L1442.3,555.1 L1443.7,555.0 L1445.1,555.3 L1446.5,555.6 L1447.9,555.5 L1449.3,555.2 L1450.7,555.1 L1452.1,555.0 L1453.5,555.0 L1454.9,553.9 L1456.3,553.2 L1457.7,554.1 L1459.1,553.9 L1460.5,552.9 L1461.9,552.8 L1463.3,553.5 L1464.7,554.5 L1466.1,553.7 L1467.5,552.5 L1468.9,552.8 L1470.3,553.6 L1471.7,553.7 L1473.1,552.0 L1474.5,550.9 L1475.9,551.8 L1477.3,552.2 L1478.7,551.3 L1480.1,550.9 L1481.5,552.5 L1482.9,553.0 L1484.3,551.8 L1485.7,552.1 L1487.1,553.0 L1488.5,553.8 L1489.9,553.1 L1491.3,552.2 L1492.7,552.7 L1494.1,552.2 L1495.5,551.4 L1496.9,551.4 L1498.3,550.2 L1499.7,550.1 L1501.1,551.8 L1502.5,551.1 L1503.9,550.0 L1505.3,549.6 L1506.7,548.1 L1508.1,547.5 L1509.5,547.9 L1510.9,547.9 L1512.3,548.4 L1513.7,548.2 L1515.1,547.1 L1516.5,547.1 L1517.9,547.2 L1519.3,546.8 L1520.7,547.4 L1522.1,548.3 L1523.5,549.6 L1524.9,549.3 L1526.3,546.9 L1527.7,545.1 L1529.1,544.9 L1530.5,545.4 L1531.9,546.2 L1533.3,545.7 L1534.7,545.7 L1536.1,547.8 L1537.5,548.1 L1538.9,547.7 L1540.3,548.7 L1541.5,548.4" stroke="#FF0808"/>
<path d="M145.4,413.6 L146.8,415.1 L148.2,416.4 L149.6,417.9 L151.0,420.3 L152.4,422.9 L153.8,424.3 L155.2,425.1 L156.6,426.5 L158.0,427.5 L159.4,428.6 L160.8,430.0 L162.2,431.6 L163.6,433.2 L165.0,433.3 L166.4,433.7 L167.8,435.4 L169.2,436.4 L170.6,436.5 L172.0,437.4 L173.4,440.0 L174.8,442.2 L176.2,443.5 L177.6,445.1 L179.0,446.3 L180.4,447.2 L181.8,448.1 L183.2,448.9 L184.6,450.2 L186.0,451.8 L187.4,452.6 L188.8,453.1 L190.2,454.3 L191.6,455.3 L193.0,456.1 L194.4,457.2 L195.8,457.9 L197.2,458.3 L198.6,459.6 L200.0,461.0 L201.4,461.5 L202.8,462.4 L204.2,463.6 L205.6,464.3 L207.0,464.7 L208.4,465.5 L209.8,466.7 L211.2,467.5 L212.6,467.9 L214.0,468.6 L215.4,469.8 L216.8,470.7 L218.2,471.2 L219.6,471.8 L221.0,472.5 L222.4,473.4 L223.8,474.0 L225.2,474.5 L226.6,475.2 L228.0,475.9 L229.4,476.5 L230.8,477.2 L232.2,477.9 L233.6,478.6 L235.0,479.2 L236.4,479.7 L237.8,480.4 L239.2,481.1 L240.6,481.7 L242.0,482.3 L243.4,482.8 L244.8,483.4 L246.2,484.1 L247.6,484.8 L249.0,485.5 L250.4,486.0 L251.8,486.5 L253.2,487.1 L254.6,487.6 L256.0,488.3 L257.4,489.0 L258.8,489.6 L260.2,490.1 L261.6,490.8 L263.0,491.4 L264.4,492.0 L265.8,492.5 L267.2,493.0 L268.6,493.5 L270.0,494.3 L271.4,494.9 L272.8,495.4 L274.2,495.9 L275.6,496.4 L277.0,497.0 L278.4,497.6 L279.8,498.1 L281.2,498.6 L282.6,499.1 L284.0,499.6 L285.4,500.1 L286.8,500.5 L288.2,500.9 L289.6,501.5 L291.0,502.0 L292.4,502.3 L293.8,502.8 L295.2,503.2 L296.6,503.7 L298.0,504.0 L299.4,504.3 L300.8,504.8 L302.2,505.1 L303.6,505.5 L305.0,506.0 L306.4,506.4 L307.8,506.9 L309.2,507.4 L310.6,507.7 L312.0,508.0 L313.4,508.3 L314.8,508.7 L316.2,509.1 L317.6,509.5 L319.0,509.9 L320.4,510.4 L321.8,510.8 L323.2,511.2 L324.6,511.7 L326.0,512.2 L327.4,512.8 L328.8,513.4 L330.2,513.9 L331.6,514.4 L333.0,514.9 L334.4,515.3 L335.8,515.8 L337.2,516.4 L338.6,516.8 L340.0,517.0 L341.4,517.3 L342.8,517.5 L344.2,517.8 L345.6,518.1 L347.0,518.4 L348.4,518.6 L349.8,518.9 L351.2,519.1 L352.6,519.3 L354.0,519.5 L355.4,519.7 L356.8,519.9 L358.2,520.2 L359.6,520.5 L361.0,520.8 L362.4,521.0 L363.8,521.3 L365.2,521.5 L366.6,521.7 L368.0,521.8 L369.4,522.1 L370.8,522.4 L372.2,522.7 L373.6,522.9 L375.0,523.2 L376.4,523.4 L377.8,523.7 L379.2,524.0 L380.6,524.2 L382.0,524.4 L383.4,524.8 L384.8,525.1 L386.2,525.3 L387.6,525.5 L389.0,525.7 L390.4,526.1 L391.8,526.6 L393.2,527.0 L394.6,527.4 L396.0,527.9 L397.4,528.5 L398.8,529.0 L400.2,529.5 L401.6,530.1 L403.0,530.6 L404.4,531.0 L405.8,531.5 L407.2,531.9 L408.6,532.4 L410.0,532.8 L411.4,533.2 L412.8,533.6 L414.2,533.9 L415.6,534.1 L417.0,534.2 L418.4,534.2 L419.8,534.1 L421.2,534.1 L422.6,534.0 L424.0,533.1 L425.4,531.5 L426.8,532.4 L428.2,534.6 L429.6,535.6 L431.0,536.3 L432.4,536.7 L433.8,537.0 L435.2,537.2 L436.6,537.4 L438.0,537.7 L439.4,538.0 L440.8,538.1 L442.2,538.3 L443.6,538.6 L445.0,538.7 L446.4,538.8 L447.8,538.9 L449.2,539.0 L450.6,539.0 L452.0,539.2 L453.4,539.3 L454.8,539.4 L456.2,539.5 L457.6,539.6 L459.0,539.6 L460.4,539.7 L461.8,539.9 L463.2,540.1 L464.6,540.2 L466.0,540.2 L467.4,540.4 L468.8,540.6 L470.2,540.8 L471.6,540.9 L473.0,541.0 L474.4,541.2 L475.8,541.4 L477.2,541.7 L478.6,542.0 L480.0,542.3 L481.4,542.5 L482.8,542.9 L484.2,543.2 L485.6,543.5 L487.0,543.7 L488.4,544.0 L489.8,544.3 L491.2,544.5 L492.6,544.8 L494.0,545.2 L495.4,545.4 L496.8,545.5 L498.2,545.6 L499.6,545.8 L501.0,546.1 L502.4,546.4 L503.8,546.5 L505.2,546.6 L506.6,546.7 L508.0,546.8 L509.4,546.9 L510.8,547.0 L512.2,547.2 L513.6,547.4 L515.0,547.5 L516.4,547.4 L517.8,547.5 L519.2,547.6 L520.6,547.6 L522.0,547.7 L523.4,547.9 L524.8,548.0 L526.2,548.0 L527.6,548.0 L529.0,548.0 L530.4,548.1 L531.8,548.2 L533.2,548.3 L534.6,548.3 L536.0,548.3 L537.4,548.3 L538.8,548.3 L540.2,548.2 L541.6,548.0 L543.0,547.9 L544.4,547.9 L545.8,547.7 L547.2,546.8 L548.6,545.5 L550.0,545.7 L551.4,546.8 L552.8,547.9 L554.2,548.6 L555.6,549.1 L557.0,549.3 L558.4,549.4 L559.8,549.5 L561.2,549.6 L562.6,549.7 L564.0,549.8 L565.4,549.8 L566.8,549.8 L568.2,549.9 L569.6,550.0 L571.0,550.0 L572.4,550.0 L573.8,549.9 L575.2,549.9 L576.6,549.9 L578.0,550.0 L579.4,550.0 L580.8,550.1 L582.2,550.1 L583.6,550.1 L585.0,550.3 L586.4,550.4 L587.8,550.8 L589.2,553.5 L590.6,553.7 L592.0,553.6 L593.4,553.6 L594.8,553.6 L596.2,553.6 L597.6,553.6 L599.0,553.6 L600.4,553.6 L601.8,553.6 L603.2,553.6 L604.6,553.6 L606.0,553.6 L607.4,553.6 L608.8,553.5 L610.2,553.5 L611.6,553.6 L613.0,553.4 L614.4,553.5 L615.8,553.5 L617.2,553.6 L618.6,553.6 L620.0,553.5 L621.4,553.7 L622.8,553.8 L624.2,553.7 L625.6,553.6 L627.0,553.5 L628.4,553.5 L629.8,553.5 L631.2,553.5 L632.6,553.5 L634.0,553.6 L635.4,553.5 L636.8,553.4 L638.2,553.4 L639.6,553.4 L641.0,553.6 L642.4,553.5 L643.8,553.3 L645.2,553.4 L646.6,553.4 L648.0,553.4 L649.4,553.4 L650.8,553.4 L652.2,553.5 L653.6,553.5 L655.0,553.5 L656.4,553.5 L657.8,553.5 L659.2,553.4 L660.6,553.2 L662.0,553.3 L663.4,553.4 L664.8,553.6 L666.2,553.7 L667.6,553.6 L669.0,553.4 L670.4,553.3 L671.8,553.3 L673.2,553.3 L674.6,552.7 L676.0,551.7 L677.4,551.5 L678.8,552.6 L680.2,553.4 L681.6,553.5 L683.0,553.5 L684.4,553.7 L685.8,553.7 L687.2,553.7 L688.6,553.7 L690.0,553.7 L691.4,553.9 L692.8,554.0 L694.2,554.0 L695.6,554.2 L697.0,554.4 L698.4,554.4 L699.8,554.3 L701.2,554.2 L702.6,554.2 L704.0,554.3 L705.4,554.5 L706.8,554.7 L708.2,554.8 L709.6,555.0 L711.0,555.0 L712.4,554.9 L713.8,554.8 L715.2,554.8 L716.6,555.0 L718.0,555.0 L719.4,554.8 L720.8,555.0 L722.2,555.2 L723.6,555.2 L725.0,555.0 L726.4,554.7 L727.8,554.9 L729.2,555.3 L730.6,555.2 L732.0,554.9 L733.4,555.1 L734.8,555.0 L736.2,554.7 L737.6,554.5 L739.0,554.8 L740.4,555.2 L741.8,555.4 L743.2,555.4 L744.6,555.5 L746.0,555.4 L747.4,555.1 L748.8,555.2 L750.2,555.2 L751.6,555.2 L753.0,555.3 L754.4,555.5 L755.8,555.4 L757.2,555.3 L758.6,555.6 L760.0,555.9 L761.4,555.5 L762.8,555.3 L764.2,555.7 L765.6,556.0 L767.0,555.8 L768.4,555.7 L769.8,555.9 L771.2,555.7 L772.6,555.5 L774.0,555.6 L775.4,555.9 L776.8,556.1 L778.2,556.2 L779.6,556.1 L781.0,556.2 L782.4,556.2 L783.8,556.1 L785.2,555.6 L786.6,555.6 L788.0,555.9 L789.4,555.8 L790.8,555.9 L792.2,556.0 L793.6,556.0 L795.0,556.1 L796.4,556.1 L797.8,555.8 L799.2,556.4 L800.6,556.8 L802.0,556.5 L803.4,556.3 L804.8,556.6 L806.2,556.6 L807.6,556.2 L809.0,556.1 L810.4,556.3 L811.8,556.4 L813.2,556.5 L814.5,556.5" stroke="#1A20D4"/>
<path d="M897.1,557.4 L898.5,557.4 L899.9,557.3 L901.3,557.3 L902.7,557.5 L904.1,557.4 L905.5,557.5 L906.9,558.0 L908.3,557.7 L909.7,557.5 L911.1,557.8 L912.5,557.8 L913.9,557.9 L915.3,558.0 L916.7,558.0 L918.1,557.9 L919.5,557.8 L920.9,558.2 L922.3,558.3 L923.7,557.6 L925.1,557.7 L926.5,558.0 L927.9,557.5 L929.3,557.7 L930.7,558.4 L932.1,558.6 L933.5,558.7 L934.9,558.5 L936.3,558.2 L937.7,558.3 L939.1,558.5 L940.5,558.5 L941.9,558.3 L943.3,558.1 L944.7,558.3 L946.1,558.6 L947.5,558.3 L948.9,557.7 L950.3,557.7 L951.7,557.9 L953.1,557.8 L954.5,557.6 L955.9,557.6 L957.3,557.8 L958.7,558.2 L960.1,558.4 L961.5,558.5 L962.9,558.6 L964.3,558.8 L965.7,559.2 L967.1,558.9 L968.5,558.2 L969.9,557.5 L971.3,557.0 L972.7,557.5 L974.1,558.3 L975.5,558.4 L976.9,558.2 L978.3,558.3 L979.7,558.3 L981.1,557.8 L982.5,557.3 L983.9,557.6 L985.3,558.0 L986.7,558.2 L988.1,558.0 L989.5,557.8 L990.9,558.2 L992.3,558.5 L993.7,558.5 L995.1,558.6 L996.5,558.5 L997.9,558.0 L999.3,557.4 L1000.7,557.6 L1002.1,558.3 L1003.5,558.5 L1004.9,558.1 L1006.3,557.9 L1007.7,557.9 L1009.1,558.0 L1010.5,557.8 L1011.9,558.1 L1013.3,558.6 L1014.7,558.3 L1016.1,557.6 L1017.5,557.4 L1018.9,557.7 L1020.3,558.2 L1021.7,558.3 L1023.1,558.1 L1024.5,557.9 L1025.9,557.7 L1027.3,557.8 L1028.7,558.3 L1030.1,558.7 L1031.5,558.7 L1032.9,558.1 L1034.3,558.0 L1035.7,558.2 L1037.1,557.8 L1038.5,557.4 L1039.9,557.5 L1041.3,557.9 L1042.7,558.1 L1044.1,558.2 L1045.5,558.5 L1046.9,558.5 L1048.3,558.3 L1049.7,558.0 L1051.1,558.0 L1052.5,558.3 L1053.9,558.4 L1055.3,558.3 L1056.7,558.1 L1058.1,557.8 L1059.5,557.4 L1060.9,557.7 L1062.3,558.3 L1063.7,558.7 L1065.1,558.8 L1066.5,558.7 L1067.9,558.8 L1069.3,559.0 L1070.7,558.8 L1072.1,558.3 L1073.5,558.3 L1074.9,558.3 L1076.3,558.3 L1077.7,558.7 L1079.1,558.9 L1080.5,558.9 L1081.9,559.1 L1083.3,558.8 L1084.7,558.5 L1086.1,558.4 L1087.5,558.4 L1088.9,558.6 L1090.3,558.9 L1091.7,559.1 L1093.1,559.0 L1094.5,558.6 L1095.9,558.1 L1097.3,557.8 L1098.7,557.9 L1100.1,558.1 L1101.5,558.4 L1102.9,558.6 L1104.3,558.8 L1105.7,558.8 L1107.1,558.6 L1108.5,558.4 L1109.9,558.3 L1111.3,558.5 L1112.7,558.4 L1114.1,558.1 L1115.5,558.5 L1116.9,558.9 L1118.3,558.4 L1119.7,557.8 L1121.1,557.4 L1122.5,557.2 L1123.9,557.5 L1125.3,557.3 L1126.7,557.1 L1128.1,557.3 L1129.5,556.6 L1130.9,555.3 L1132.3,554.7 L1133.7,554.2 L1134.5,553.6" stroke="#1A20D4"/>
<path d="M1260.3,557.7 L1261.7,557.9 L1263.1,558.1 L1264.5,558.0 L1265.9,557.9 L1267.3,558.1 L1268.7,558.0 L1270.1,557.8 L1271.5,557.8 L1272.9,557.8 L1274.3,556.7 L1275.7,555.3 L1277.1,553.6 L1278.5,552.3 L1279.9,552.5 L1281.3,553.9 L1282.7,555.1 L1284.1,555.7 L1285.5,556.9 L1286.9,557.7 L1288.3,557.5 L1289.7,557.4 L1291.1,557.6 L1292.5,557.3 L1293.9,556.9 L1295.3,557.0 L1296.7,557.5 L1298.1,557.9 L1299.5,558.0 L1300.9,557.5 L1302.3,557.1 L1303.7,557.0 L1305.1,557.1 L1306.5,557.0 L1307.9,557.0 L1309.3,557.3 L1310.7,557.6 L1312.1,557.6 L1313.5,557.4 L1314.9,557.0 L1316.3,556.8 L1317.7,557.2 L1319.1,557.8 L1320.5,557.8 L1321.9,557.6 L1323.3,557.6 L1324.7,557.7 L1326.1,557.8 L1327.5,557.7 L1328.9,557.4 L1330.3,557.4 L1331.7,557.1 L1333.1,556.8 L1334.5,556.8 L1335.9,557.2 L1337.3,557.4 L1338.7,557.3 L1340.1,557.4 L1341.5,557.6 L1342.9,557.3 L1344.3,557.2 L1345.7,557.8 L1347.1,558.0 L1348.5,557.4 L1349.9,556.8 L1351.3,557.0 L1352.7,557.4 L1354.1,557.6 L1355.5,557.6 L1356.9,557.2 L1358.3,557.2 L1359.7,557.4 L1361.1,557.6 L1362.5,557.6 L1363.9,557.5 L1365.3,557.0 L1366.7,556.6 L1368.1,556.7 L1369.5,556.8 L1370.9,557.1 L1372.3,557.7 L1373.7,557.9 L1375.1,557.4 L1376.5,557.0 L1377.9,557.0 L1379.3,557.3 L1380.7,557.7 L1382.1,557.7 L1383.5,557.4 L1384.9,556.9 L1386.3,556.4 L1387.7,556.5 L1389.1,556.9 L1390.5,557.3 L1391.9,557.3 L1393.3,557.0 L1394.7,557.3 L1396.1,557.6 L1397.5,557.1 L1398.9,556.8 L1400.3,556.9 L1401.7,556.9 L1403.1,557.1 L1404.5,557.7 L1405.9,557.7 L1407.3,557.0 L1408.7,557.0 L1410.1,557.3 L1411.5,557.2 L1412.9,557.1 L1414.3,557.3 L1415.7,557.5 L1417.1,557.3 L1418.5,557.2 L1419.9,557.3 L1421.3,557.3 L1422.7,557.5 L1424.1,557.7 L1425.5,557.5 L1426.9,557.4 L1428.3,557.1 L1429.7,556.7 L1431.1,556.5 L1432.5,556.7 L1433.9,557.0 L1435.3,556.8 L1436.7,556.7 L1438.1,557.3 L1439.5,557.2 L1440.9,557.0 L1442.3,557.7 L1443.7,557.7 L1445.1,557.5 L1446.5,557.8 L1447.9,557.5 L1449.3,557.6 L1450.7,558.0 L1452.1,557.3 L1453.5,557.2 L1454.9,557.5 L1456.3,556.9 L1457.7,557.1 L1459.1,558.2 L1460.5,558.6 L1461.9,557.5 L1463.3,557.2 L1464.7,557.8 L1466.1,557.2 L1467.5,556.7 L1468.9,557.3 L1470.3,557.7 L1471.7,558.1 L1473.1,558.7 L1474.5,558.6 L1475.9,558.1 L1477.3,557.4 L1478.7,556.7 L1480.1,557.0 L1481.5,557.4 L1482.9,557.2 L1484.3,557.0 L1485.7,557.4 L1487.1,559.2 L1488.5,559.6 L1489.9,558.2 L1491.3,557.5 L1492.7,558.0 L1494.1,558.7 L1495.5,558.4 L1496.9,557.6 L1498.3,557.4 L1499.7,557.0 L1501.1,556.9 L1502.5,557.3 L1503.9,557.4 L1505.3,557.7 L1506.7,558.5 L1508.1,558.7 L1509.5,558.5 L1510.9,557.9 L1512.3,557.1 L1513.7,557.1 L1515.1,557.0 L1516.5,556.8 L1517.9,557.1 L1519.3,556.1 L1520.7,554.2 L1522.1,553.8 L1523.5,554.2 L1524.9,553.9 L1526.3,551.7 L1527.7,549.9 L1529.1,551.4 L1530.5,552.9 L1531.9,551.7 L1533.3,550.8 L1534.7,549.7 L1536.1,549.3 L1537.5,556.3 L1538.9,562.1 L1540.3,560.6 L1541.7,559.1 L1542.8,557.2" stroke="#1A20D4"/>
<path d="M145.5,465.5 L146.9,466.6 L148.3,467.7 L149.7,468.8 L151.1,469.8 L152.5,470.7 L153.9,471.7 L155.3,472.7 L156.7,473.7 L158.1,474.5 L159.5,475.4 L160.9,476.4 L162.3,477.3 L163.7,478.2 L165.1,479.0 L166.5,479.9 L167.9,480.8 L169.3,481.6 L170.7,482.4 L172.1,483.3 L173.5,484.1 L174.9,484.7 L176.3,485.4 L177.7,486.2 L179.1,486.9 L180.5,487.4 L181.9,487.9 L183.3,488.6 L184.7,489.2 L186.1,489.8 L187.5,490.3 L188.9,490.8 L190.3,491.4 L191.7,492.0 L193.1,492.4 L194.5,492.8 L195.9,493.3 L197.3,493.9 L198.7,494.3 L200.1,494.7 L201.5,495.1 L202.9,495.6 L204.3,496.1 L205.7,496.5 L207.1,497.0 L208.5,497.6 L209.9,498.2 L211.3,498.7 L212.7,499.2 L214.1,499.7 L215.5,500.2 L216.9,500.6 L218.3,501.0 L219.7,501.4 L221.1,501.8 L222.5,502.2 L223.9,502.6 L225.3,503.0 L226.7,503.4 L228.1,503.6 L229.5,503.9 L230.9,504.3 L232.3,504.6 L233.7,504.9 L235.1,505.1 L236.5,505.4 L237.9,505.9 L239.3,506.3 L240.7,506.5 L242.1,506.8 L243.5,507.1 L244.9,507.5 L246.3,507.8 L247.7,508.1 L249.1,508.3 L250.5,508.6 L251.9,508.8 L253.3,509.1 L254.7,509.5 L256.1,509.9 L257.5,510.2 L258.9,510.6 L260.3,510.8 L261.7,511.1 L263.1,511.4 L264.5,511.7 L265.9,512.0 L267.3,512.3 L268.7,512.5 L270.1,512.8 L271.5,513.1 L272.9,513.4 L274.3,513.7 L275.7,514.0 L277.1,514.2 L278.5,514.3 L279.9,514.5 L281.3,514.9 L282.7,515.1 L284.1,515.3 L285.5,515.7 L286.9,515.9 L288.3,516.1 L289.7,516.3 L291.1,516.6 L292.5,516.8 L293.9,517.0 L295.3,517.3 L296.7,517.6 L298.1,517.8 L299.5,518.0 L300.9,518.2 L302.3,518.3 L303.7,518.6 L305.1,518.8 L306.5,519.0 L307.9,519.3 L309.3,519.5 L310.7,519.7 L312.1,519.7 L313.5,519.9 L314.9,520.1 L316.3,520.5 L317.7,520.7 L319.1,520.8 L320.5,520.9 L321.9,521.1 L323.3,521.3 L324.7,521.5 L326.1,521.7 L327.5,521.9 L328.9,522.1 L330.3,522.2 L331.7,522.3 L333.1,522.4 L334.5,522.7 L335.9,522.9 L337.3,523.0 L338.7,523.2 L340.1,523.4 L341.5,523.6 L342.9,523.8 L344.3,523.9 L345.7,524.1 L347.1,524.3 L348.5,524.5 L349.9,524.6 L351.3,524.8 L352.7,525.1 L354.1,525.3 L355.5,525.5 L356.9,525.7 L358.3,525.8 L359.7,525.9 L361.1,526.0 L362.5,526.2 L363.9,526.5 L365.3,526.6 L366.7,526.8 L368.1,526.9 L369.5,527.0 L370.9,527.1 L372.3,527.3 L373.7,527.4 L375.1,527.6 L376.5,527.7 L377.9,527.8 L379.3,527.9 L380.7,528.0 L382.1,528.2 L383.5,528.3 L384.9,528.4 L386.3,528.6 L387.7,528.9 L389.1,528.9 L390.5,528.9 L391.9,529.2 L393.3,529.4 L394.7,529.5 L396.1,529.7 L397.5,529.9 L398.9,530.1 L400.3,530.4 L401.7,530.5 L403.1,530.5 L404.5,530.7 L405.9,530.9 L407.3,531.1 L408.7,531.3 L410.1,531.3 L411.5,531.4 L412.9,531.6 L414.3,531.7 L415.7,531.7 L417.1,531.7 L418.5,531.7 L419.9,531.7 L421.3,531.7 L422.7,531.5 L424.1,530.7 L425.5,529.4 L426.9,530.4 L428.3,532.2 L429.7,532.8 L431.1,533.2 L432.5,533.3 L433.9,533.4 L435.3,533.5 L436.7,533.7 L438.1,533.9 L439.5,534.0 L440.9,534.0 L442.3,534.1 L443.7,534.3 L445.1,534.4 L446.5,534.4 L447.9,534.3 L449.3,534.4 L450.7,534.5 L452.1,534.6 L453.5,534.6 L454.9,534.6 L456.3,534.6 L457.7,534.7 L459.1,534.8 L460.5,534.8 L461.9,534.8 L463.3,534.9 L464.7,534.9 L466.1,535.0 L467.5,535.1 L468.9,535.1 L470.3,535.1 L471.7,535.1 L473.1,535.0 L474.5,535.1 L475.9,535.2 L477.3,535.3 L478.7,535.3 L480.1,535.3 L481.5,535.4 L482.9,535.5 L484.3,535.6 L485.7,535.5 L487.1,535.6 L488.5,535.7 L489.9,535.7 L491.3,535.8 L492.7,535.8 L494.1,535.8 L495.5,535.9 L496.9,535.9 L498.3,535.9 L499.7,535.9 L501.1,536.0 L502.5,536.0 L503.9,535.9 L505.3,535.8 L506.7,535.9 L508.1,536.0 L509.5,536.0 L510.9,535.9 L512.3,535.8 L513.7,535.6 L515.1,535.5 L516.5,535.4 L517.9,535.2 L519.3,535.1 L520.7,534.9 L522.1,534.9 L523.5,534.9 L524.9,534.9 L526.3,534.7 L527.7,534.5 L529.1,534.4 L530.5,534.2 L531.9,534.0 L533.3,534.0 L534.7,534.0 L536.1,533.9 L537.5,533.8 L538.9,533.7 L540.3,533.8 L541.7,533.7 L543.1,533.6 L544.5,533.5 L545.9,533.4 L547.3,533.5 L548.7,533.4 L550.1,533.3 L551.5,533.3 L552.9,533.3 L554.3,533.2 L555.7,533.2 L557.1,533.2 L558.5,533.2 L559.9,533.2 L561.3,533.1 L562.7,533.0 L564.1,532.9 L565.5,532.8 L566.9,532.9 L568.3,532.9 L569.7,532.8 L571.1,532.8 L572.5,532.6 L573.9,532.5 L575.3,532.4 L576.7,532.3 L578.1,532.2 L579.5,532.1 L580.9,532.0 L582.3,531.8 L583.7,531.6 L585.1,531.4 L586.5,531.2 L587.9,530.7 L589.3,528.7 L590.7,528.3 L592.1,528.2 L593.5,528.1 L594.9,528.0 L596.3,527.9 L597.7,527.8 L599.1,527.6 L600.5,527.6 L601.9,527.4 L603.3,527.2 L604.7,526.9 L606.1,526.6 L607.5,526.3 L608.9,526.1 L610.3,525.9 L611.7,525.6 L613.1,525.2 L614.5,525.0 L615.9,524.7 L617.3,524.2 L618.7,523.9 L620.1,523.8 L621.5,523.6 L622.9,523.4 L624.3,523.1 L625.7,522.7 L627.1,522.3 L628.5,522.0 L629.9,521.8 L631.3,521.6 L632.7,521.4 L634.1,521.1 L635.5,520.8 L636.9,520.7 L638.3,520.5 L639.7,520.1 L641.1,519.6 L642.5,519.3 L643.9,519.0 L645.3,518.6 L646.7,518.3 L648.1,518.0 L649.5,517.7 L650.9,517.3 L652.3,516.9 L653.7,516.6 L655.1,516.0 L656.5,515.4 L657.9,515.1 L659.3,514.9 L660.7,514.6 L662.1,514.2 L663.5,513.7 L664.9,513.4 L666.3,513.1 L667.7,512.8 L669.1,512.4 L670.5,512.2 L671.9,512.1 L673.3,511.7 L674.7,511.5 L676.1,511.4 L677.5,511.3 L678.9,511.2 L680.3,511.1 L681.7,511.0 L683.1,510.8 L684.5,510.5 L685.9,510.2 L687.3,510.2 L688.7,510.2 L690.1,510.2 L691.5,510.0 L692.9,509.6 L694.3,509.3 L695.7,509.4 L697.1,509.3 L698.5,509.0 L699.9,508.8 L701.3,508.7 L702.7,508.4 L704.1,508.1 L705.5,508.0 L706.9,507.7 L708.3,507.6 L709.7,507.6 L711.1,507.4 L712.5,506.8 L713.9,506.4 L715.3,506.4 L716.7,506.3 L718.1,505.9 L719.5,505.5 L720.9,505.2 L722.3,505.0 L723.7,505.0 L725.1,504.9 L726.5,504.6 L727.9,504.1 L729.3,503.9 L730.7,503.6 L732.1,503.1 L733.5,502.9 L734.9,502.8 L736.3,502.3 L737.7,501.7 L739.1,501.2 L740.5,500.6 L741.9,500.1 L743.3,499.9 L744.7,499.9 L746.1,499.7 L747.5,499.2 L748.9,498.6 L750.3,498.0 L751.7,497.5 L753.1,497.3 L754.5,497.0 L755.9,496.7 L757.3,496.4 L758.7,495.8 L760.1,495.3 L761.5,495.0 L762.9,494.7 L764.3,494.6 L765.7,494.7 L767.1,494.5 L768.5,494.2 L769.9,494.2 L771.3,493.9 L772.7,493.5 L774.1,493.3 L775.5,493.0 L776.9,492.6 L778.3,492.2 L779.7,491.6 L781.1,491.3 L782.5,491.3 L783.9,491.1 L785.3,490.7 L786.7,490.5 L788.1,490.4 L789.5,490.2 L790.9,489.9 L792.3,489.5 L793.7,488.9 L795.1,488.5 L796.5,488.2 L797.9,487.8 L799.3,487.6 L800.7,487.5 L802.1,486.9 L803.5,486.4 L804.9,486.4 L806.3,486.3 L807.7,485.9 L809.1,485.4 L810.5,484.9 L811.9,484.3 L813.3,484.0 L814.5,483.8" stroke="#10B0F0"/>
<path d="M897.2,482.5 L898.6,482.2 L900.0,482.0 L901.4,481.5 L902.8,481.4 L904.2,481.7 L905.6,481.6 L907.0,480.7 L908.4,479.9 L909.8,479.6 L911.2,479.6 L912.6,479.5 L914.0,478.5 L915.4,477.0 L916.8,475.8 L918.2,474.8 L919.6,474.3 L921.0,474.0 L922.4,473.5 L923.8,472.6 L925.2,471.5 L926.6,471.0 L928.0,470.6 L929.4,469.2 L930.8,468.1 L932.2,467.8 L933.6,467.1 L935.0,466.7 L936.4,466.5 L937.8,465.8 L939.2,465.2 L940.6,464.7 L942.0,464.7 L943.4,464.1 L944.8,462.8 L946.2,461.9 L947.6,461.4 L949.0,461.4 L950.4,461.0 L951.8,460.1 L953.2,459.7 L954.6,458.9 L956.0,458.0 L957.4,458.1 L958.8,458.7 L960.2,458.4 L961.6,457.4 L963.0,457.1 L964.4,456.6 L965.8,455.7 L967.2,456.0 L968.6,456.5 L970.0,455.6 L971.4,455.0 L972.8,454.7 L974.2,454.1 L975.6,454.0 L977.0,454.1 L978.4,453.7 L979.8,453.1 L981.2,452.7 L982.6,452.4 L984.0,452.4 L985.4,452.5 L986.8,452.0 L988.2,450.7 L989.6,449.9 L991.0,450.6 L992.4,450.7 L993.8,449.5 L995.2,448.7 L996.6,449.0 L998.0,449.5 L999.4,449.0 L1000.8,448.8 L1002.2,449.2 L1003.6,449.4 L1005.0,448.8 L1006.4,448.2 L1007.8,448.3 L1009.2,448.8 L1010.6,448.5 L1012.0,447.5 L1013.4,446.6 L1014.8,446.7 L1016.2,446.9 L1017.6,446.8 L1019.0,447.0 L1020.4,446.9 L1021.8,446.7 L1023.2,446.7 L1024.6,446.3 L1026.0,445.6 L1027.4,446.0 L1028.8,446.4 L1030.2,445.5 L1031.6,445.4 L1033.0,445.9 L1034.4,445.6 L1035.8,445.0 L1037.2,445.0 L1038.6,445.8 L1040.0,446.5 L1041.4,446.5 L1042.8,446.2 L1044.2,446.0 L1045.6,445.6 L1047.0,445.5 L1048.4,446.2 L1049.8,447.7 L1051.2,449.6 L1052.6,450.8 L1054.0,452.0 L1055.4,454.0 L1056.8,455.6 L1058.2,457.2 L1059.6,459.1 L1061.0,461.0 L1062.4,463.4 L1063.8,465.7 L1065.2,467.7 L1066.6,469.7 L1068.0,471.2 L1069.4,472.3 L1070.8,473.4 L1072.2,474.7 L1073.6,475.8 L1075.0,476.9 L1076.4,478.1 L1077.8,478.9 L1079.2,479.1 L1080.6,479.9 L1082.0,481.7 L1083.4,483.4 L1084.8,484.5 L1086.2,485.3 L1087.6,485.4 L1089.0,483.5 L1090.4,480.5 L1091.8,477.3 L1093.2,475.0 L1094.6,474.1 L1096.0,473.5 L1097.4,472.7 L1098.8,471.7 L1100.2,471.2 L1101.6,471.1 L1103.0,471.1 L1104.4,471.3 L1105.8,471.4 L1107.2,471.3 L1108.6,471.6 L1110.0,472.3 L1111.4,472.3 L1112.8,471.0 L1114.2,469.7 L1115.6,468.3 L1117.0,465.9 L1118.4,464.1 L1119.8,463.1 L1121.2,461.9 L1122.6,461.6 L1124.0,461.6 L1125.4,460.9 L1126.8,460.3 L1128.2,460.1 L1129.6,460.1 L1131.0,460.3 L1132.4,460.3 L1133.8,460.5 L1134.5,461.0" stroke="#10B0F0"/>
<path d="M1260.3,472.5 L1261.7,472.2 L1263.1,471.2 L1264.5,470.2 L1265.9,470.7 L1267.3,471.1 L1268.7,469.5 L1270.1,466.7 L1271.5,462.4 L1272.9,458.1 L1274.3,455.0 L1275.7,452.1 L1277.1,450.2 L1278.5,450.3 L1279.9,450.1 L1281.3,449.2 L1282.7,449.2 L1284.1,449.1 L1285.5,449.2 L1286.9,451.4 L1288.3,453.8 L1289.7,455.5 L1291.1,456.3 L1292.5,457.2 L1293.9,457.7 L1295.3,456.7 L1296.7,455.5 L1298.1,454.1 L1299.5,452.9 L1300.9,452.4 L1302.3,451.8 L1303.7,451.3 L1305.1,450.4 L1306.5,448.4 L1307.9,446.6 L1309.3,445.3 L1310.7,443.3 L1312.1,442.0 L1313.5,441.7 L1314.9,441.7 L1316.3,441.8 L1317.7,441.9 L1319.1,442.3 L1320.5,442.4 L1321.9,441.6 L1323.3,440.9 L1324.7,441.0 L1326.1,440.6 L1327.5,439.9 L1328.9,439.7 L1330.3,439.4 L1331.7,438.8 L1333.1,438.4 L1334.5,437.4 L1335.9,436.1 L1337.3,435.4 L1338.7,435.1 L1340.1,434.7 L1341.5,434.4 L1342.9,434.3 L1344.3,434.1 L1345.7,433.6 L1347.1,432.4 L1348.5,432.0 L1349.9,432.4 L1351.3,432.5 L1352.7,432.4 L1354.1,432.2 L1355.5,432.3 L1356.9,432.4 L1358.3,432.2 L1359.7,431.6 L1361.1,431.0 L1362.5,431.2 L1363.9,431.4 L1365.3,431.4 L1366.7,431.7 L1368.1,432.4 L1369.5,432.5 L1370.9,431.9 L1372.3,432.0 L1373.7,432.8 L1375.1,433.3 L1376.5,433.4 L1377.9,433.5 L1379.3,433.8 L1380.7,434.5 L1382.1,434.8 L1383.5,434.6 L1384.9,434.3 L1386.3,434.3 L1387.7,435.0 L1389.1,435.3 L1390.5,435.1 L1391.9,434.7 L1393.3,433.5 L1394.7,432.6 L1396.1,432.8 L1397.5,433.1 L1398.9,433.2 L1400.3,432.9 L1401.7,432.3 L1403.1,431.6 L1404.5,430.3 L1405.9,429.3 L1407.3,429.6 L1408.7,430.0 L1410.1,429.1 L1411.5,429.7 L1412.9,431.0 L1414.3,431.0 L1415.7,430.7 L1417.1,431.2 L1418.5,432.2 L1419.9,432.3 L1421.3,432.0 L1422.7,432.5 L1424.1,433.3 L1425.5,434.1 L1426.9,434.5 L1428.3,433.9 L1429.7,433.8 L1431.1,435.2 L1432.5,436.6 L1433.9,437.0 L1435.3,438.1 L1436.7,439.6 L1438.1,440.4 L1439.5,442.0 L1440.9,444.1 L1442.3,446.7 L1443.7,450.3 L1445.1,453.8 L1446.5,456.6 L1447.9,459.6 L1449.3,462.9 L1450.7,466.2 L1452.1,470.3 L1453.5,475.8 L1454.9,481.4 L1456.3,486.4 L1457.7,491.3 L1459.1,495.0 L1460.5,497.9 L1461.9,499.5 L1463.3,499.8 L1464.7,500.6 L1466.1,502.2 L1467.5,503.4 L1468.9,503.6 L1470.3,503.1 L1471.7,503.1 L1473.1,504.1 L1474.5,506.2 L1475.9,508.7 L1477.3,511.0 L1478.7,513.3 L1480.1,516.2 L1481.5,518.5 L1482.9,520.4 L1484.3,522.3 L1485.7,522.5 L1487.1,521.2 L1488.5,520.8 L1489.9,520.3 L1491.3,517.9 L1492.7,514.6 L1494.1,511.5 L1495.5,509.6 L1496.9,508.8 L1498.3,507.0 L1499.7,504.7 L1501.1,503.9 L1502.5,505.1 L1503.9,506.1 L1505.3,507.9 L1506.7,510.8 L1508.1,511.8 L1509.5,512.0 L1510.9,514.0 L1512.3,515.1 L1513.7,514.9 L1515.1,514.3 L1516.5,512.6 L1517.9,510.9 L1519.3,509.7 L1520.7,508.4 L1522.1,505.7 L1523.5,501.3 L1524.9,497.8 L1526.3,496.6 L1527.7,495.5 L1529.1,494.4 L1530.5,493.3 L1531.9,491.8 L1533.3,491.2 L1534.7,492.7 L1536.1,493.9 L1537.5,493.9 L1538.9,494.5 L1540.3,494.5 L1541.7,493.3 L1543.1,494.0 L1544.5,495.7 L1545.5,496.0" stroke="#10B0F0"/>
<path d="M145.5,455.4 L146.9,456.9 L148.3,458.5 L149.7,460.0 L151.1,461.4 L152.5,462.8 L153.9,464.3 L155.3,465.6 L156.7,466.8 L158.1,468.1 L159.5,469.4 L160.9,470.6 L162.3,471.8 L163.7,473.0 L165.1,474.1 L166.5,475.3 L167.9,476.4 L169.3,477.6 L170.7,478.7 L172.1,479.7 L173.5,480.7 L174.9,481.7 L176.3,482.6 L177.7,483.6 L179.1,484.5 L180.5,485.3 L181.9,486.1 L183.3,486.9 L184.7,487.6 L186.1,488.4 L187.5,489.2 L188.9,490.0 L190.3,490.7 L191.7,491.4 L193.1,492.2 L194.5,492.9 L195.9,493.6 L197.3,494.4 L198.7,495.0 L200.1,495.8 L201.5,496.5 L202.9,497.2 L204.3,497.9 L205.7,498.7 L207.1,499.4 L208.5,499.9 L209.9,500.5 L211.3,501.2 L212.7,501.8 L214.1,502.5 L215.5,503.0 L216.9,503.6 L218.3,504.1 L219.7,504.7 L221.1,505.2 L222.5,505.9 L223.9,506.4 L225.3,506.9 L226.7,507.3 L228.1,507.8 L229.5,508.4 L230.9,508.9 L232.3,509.3 L233.7,509.8 L235.1,510.3 L236.5,510.8 L237.9,511.3 L239.3,511.8 L240.7,512.2 L242.1,512.5 L243.5,512.9 L244.9,513.3 L246.3,513.8 L247.7,514.3 L249.1,514.7 L250.5,515.1 L251.9,515.5 L253.3,515.9 L254.7,516.2 L256.1,516.6 L257.5,517.1 L258.9,517.5 L260.3,517.9 L261.7,518.3 L263.1,518.8 L264.5,519.1 L265.9,519.4 L267.3,519.7 L268.7,520.1 L270.1,520.5 L271.5,520.9 L272.9,521.2 L274.3,521.6 L275.7,521.9 L277.1,522.1 L278.5,522.4 L279.9,522.7 L281.3,523.0 L282.7,523.3 L284.1,523.6 L285.5,523.9 L286.9,524.2 L288.3,524.4 L289.7,524.6 L291.1,524.8 L292.5,525.0 L293.9,525.2 L295.3,525.5 L296.7,525.7 L298.1,526.0 L299.5,526.3 L300.9,526.6 L302.3,526.8 L303.7,527.0 L305.1,527.1 L306.5,527.3 L307.9,527.5 L309.3,527.7 L310.7,527.9 L312.1,528.2 L313.5,528.4 L314.9,528.5 L316.3,528.7 L317.7,528.9 L319.1,529.0 L320.5,529.1 L321.9,529.3 L323.3,529.5 L324.7,529.7 L326.1,530.0 L327.5,530.1 L328.9,530.3 L330.3,530.4 L331.7,530.6 L333.1,530.8 L334.5,531.0 L335.9,531.1 L337.3,531.2 L338.7,531.4 L340.1,531.7 L341.5,531.9 L342.9,532.0 L344.3,532.1 L345.7,532.3 L347.1,532.5 L348.5,532.6 L349.9,532.8 L351.3,533.0 L352.7,533.1 L354.1,533.2 L355.5,533.2 L356.9,533.4 L358.3,533.6 L359.7,533.7 L361.1,533.7 L362.5,533.9 L363.9,534.1 L365.3,534.3 L366.7,534.4 L368.1,534.4 L369.5,534.4 L370.9,534.5 L372.3,534.7 L373.7,534.8 L375.1,534.8 L376.5,535.0 L377.9,535.1 L379.3,535.2 L380.7,535.2 L382.1,535.3 L383.5,535.5 L384.9,535.6 L386.3,535.7 L387.7,535.9 L389.1,535.9 L390.5,536.0 L391.9,536.2 L393.3,536.4 L394.7,536.7 L396.1,536.9 L397.5,537.1 L398.9,537.4 L400.3,537.6 L401.7,537.8 L403.1,538.1 L404.5,538.4 L405.9,538.6 L407.3,538.8 L408.7,539.0 L410.1,539.2 L411.5,539.4 L412.9,539.6 L414.3,539.7 L415.7,539.8 L417.1,539.9 L418.5,539.9 L419.9,539.9 L421.3,539.9 L422.7,539.8 L424.1,538.6 L425.5,536.7 L426.9,537.8 L428.3,540.0 L429.7,540.5 L431.1,540.8 L432.5,540.9 L433.9,541.1 L435.3,541.2 L436.7,541.3 L438.1,541.4 L439.5,541.5 L440.9,541.6 L442.3,541.7 L443.7,541.8 L445.1,542.0 L446.5,542.1 L447.9,542.3 L449.3,542.3 L450.7,542.4 L452.1,542.5 L453.5,542.5 L454.9,542.5 L456.3,542.6 L457.7,542.7 L459.1,542.7 L460.5,542.8 L461.9,542.9 L463.3,543.0 L464.7,543.0 L466.1,543.0 L467.5,543.1 L468.9,543.3 L470.3,543.4 L471.7,543.4 L473.1,543.3 L474.5,543.3 L475.9,543.4 L477.3,543.5 L478.7,543.6 L480.1,543.6 L481.5,543.6 L482.9,543.6 L484.3,543.6 L485.7,543.7 L487.1,543.9 L488.5,544.0 L489.9,544.0 L491.3,544.0 L492.7,543.9 L494.1,543.9 L495.5,543.9 L496.9,544.0 L498.3,544.1 L499.7,544.2 L501.1,544.2 L502.5,544.1 L503.9,544.0 L505.3,544.1 L506.7,544.1 L508.1,544.0 L509.5,544.0 L510.9,544.1 L512.3,544.2 L513.7,544.1 L515.1,544.1 L516.5,544.1 L517.9,544.2 L519.3,544.2 L520.7,544.2 L522.1,544.1 L523.5,544.0 L524.9,544.0 L526.3,543.9 L527.7,544.0 L529.1,544.1 L530.5,544.1 L531.9,544.1 L533.3,544.0 L534.7,544.0 L536.1,544.0 L537.5,544.1 L538.9,544.1 L540.3,544.1 L541.7,544.1 L543.1,544.1 L544.5,544.0 L545.9,543.8 L547.3,543.6 L548.7,543.5 L550.1,543.5 L551.5,543.5 L552.9,543.3 L554.3,543.2 L555.7,543.1 L557.1,543.1 L558.5,543.0 L559.9,542.7 L561.3,542.5 L562.7,542.5 L564.1,542.5 L565.5,542.3 L566.9,542.2 L568.3,542.2 L569.7,542.0 L571.1,541.9 L572.5,541.7 L573.9,541.6 L575.3,541.7 L576.7,541.7 L578.1,541.6 L579.5,541.6 L580.9,541.6 L582.3,541.4 L583.7,541.3 L585.1,541.2 L586.5,541.1 L587.9,540.7 L589.3,538.5 L590.7,538.3 L592.1,538.2 L593.5,538.0 L594.9,537.9 L596.3,537.7 L597.7,537.6 L599.1,537.6 L600.5,537.5 L601.9,537.3 L603.3,537.1 L604.7,536.7 L606.1,536.4 L607.5,536.2 L608.9,536.0 L610.3,535.6 L611.7,535.2 L613.1,534.9 L614.5,534.7 L615.9,534.3 L617.3,533.9 L618.7,533.6 L620.1,533.4 L621.5,533.1 L622.9,532.8 L624.3,532.5 L625.7,532.1 L627.1,531.7 L628.5,531.4 L629.9,531.1 L631.3,530.6 L632.7,530.3 L634.1,529.9 L635.5,529.6 L636.9,529.3 L638.3,529.0 L639.7,528.6 L641.1,528.0 L642.5,527.7 L643.9,527.5 L645.3,526.9 L646.7,526.4 L648.1,526.2 L649.5,525.8 L650.9,525.2 L652.3,524.8 L653.7,524.3 L655.1,523.8 L656.5,523.5 L657.9,523.0 L659.3,522.5 L660.7,522.1 L662.1,521.7 L663.5,521.3 L664.9,521.0 L666.3,520.6 L667.7,520.1 L669.1,519.5 L670.5,519.1 L671.9,519.0 L673.3,518.8 L674.7,518.4 L676.1,517.9 L677.5,517.5 L678.9,517.1 L680.3,516.8 L681.7,516.5 L683.1,516.2 L684.5,515.8 L685.9,515.4 L687.3,515.0 L688.7,514.6 L690.1,514.3 L691.5,514.4 L692.9,514.3 L694.3,513.7 L695.7,513.0 L697.1,512.6 L698.5,512.3 L699.9,511.7 L701.3,511.4 L702.7,511.2 L704.1,510.9 L705.5,510.8 L706.9,510.5 L708.3,509.9 L709.7,509.4 L711.1,508.9 L712.5,508.6 L713.9,508.6 L715.3,508.4 L716.7,508.0 L718.1,507.6 L719.5,507.2 L720.9,506.7 L722.3,506.3 L723.7,506.1 L725.1,506.1 L726.5,505.6 L727.9,505.0 L729.3,504.6 L730.7,504.5 L732.1,504.1 L733.5,503.3 L734.9,502.9 L736.3,502.7 L737.7,502.3 L739.1,501.6 L740.5,501.0 L741.9,500.5 L743.3,499.8 L744.7,498.6 L746.1,497.2 L747.5,495.9 L748.9,494.8 L750.3,493.5 L751.7,492.0 L753.1,490.8 L754.5,489.6 L755.9,488.6 L757.3,487.6 L758.7,486.7 L760.1,485.8 L761.5,485.1 L762.9,484.4 L764.3,483.7 L765.7,482.6 L767.1,481.6 L768.5,480.8 L769.9,479.6 L771.3,478.8 L772.7,478.5 L774.1,478.0 L775.5,477.1 L776.9,476.1 L778.3,475.1 L779.7,474.5 L781.1,473.9 L782.5,473.0 L783.9,472.0 L785.3,471.2 L786.7,470.6 L788.1,470.3 L789.5,469.5 L790.9,468.5 L792.3,467.7 L793.7,467.2 L795.1,466.6 L796.5,465.8 L797.9,465.0 L799.3,464.1 L800.7,463.6 L802.1,463.4 L803.5,462.8 L804.9,461.9 L806.3,461.3 L807.7,460.9 L809.1,460.2 L810.5,459.5 L811.9,459.1 L813.3,458.7 L814.5,458.2" stroke="#7030A0"/>
<path d="M897.2,443.1 L898.6,442.6 L900.0,442.1 L901.4,441.5 L902.8,440.7 L904.2,440.1 L905.6,439.4 L907.0,438.3 L908.4,437.2 L909.8,435.5 L911.2,433.4 L912.6,431.3 L914.0,429.3 L915.4,427.2 L916.8,425.0 L918.2,423.0 L919.6,421.4 L921.0,420.0 L922.4,418.0 L923.8,415.6 L925.2,413.7 L926.6,412.0 L928.0,410.4 L929.4,409.0 L930.8,407.2 L932.2,405.0 L933.6,403.4 L935.0,401.7 L936.4,399.7 L937.8,398.0 L939.2,396.3 L940.6,394.9 L942.0,393.2 L943.4,391.5 L944.8,390.2 L946.2,388.8 L947.6,387.5 L949.0,386.1 L950.4,384.6 L951.8,383.1 L953.2,381.5 L954.6,379.7 L956.0,377.9 L957.4,376.5 L958.8,375.1 L960.2,373.0 L961.6,370.3 L963.0,368.3 L964.4,366.4 L965.8,364.1 L967.2,362.5 L968.6,361.3 L970.0,359.4 L971.4,357.3 L972.8,355.9 L974.2,354.5 L975.6,352.8 L977.0,351.1 L978.4,349.4 L979.8,347.8 L981.2,346.5 L982.6,345.4 L984.0,344.2 L985.4,342.9 L986.8,340.9 L988.2,338.9 L989.6,337.8 L991.0,336.9 L992.4,335.7 L993.8,334.4 L995.2,333.4 L996.6,332.6 L998.0,331.6 L999.4,330.6 L1000.8,329.5 L1002.2,328.3 L1003.6,327.2 L1005.0,325.6 L1006.4,324.4 L1007.8,323.7 L1009.2,322.9 L1010.6,322.2 L1012.0,321.4 L1013.4,321.0 L1014.8,320.8 L1016.2,320.0 L1017.6,319.1 L1019.0,318.3 L1020.4,317.8 L1021.8,317.6 L1023.2,317.0 L1024.6,316.2 L1026.0,315.7 L1027.4,315.4 L1028.8,314.8 L1030.2,314.6 L1031.6,314.5 L1033.0,314.3 L1034.4,314.3 L1035.8,314.1 L1037.2,314.4 L1038.6,314.9 L1040.0,315.1 L1041.4,315.1 L1042.8,315.3 L1044.2,317.7 L1045.6,321.0 L1047.0,324.1 L1048.4,327.4 L1049.8,330.3 L1051.2,333.3 L1052.6,336.6 L1054.0,340.4 L1055.4,345.9 L1056.8,352.2 L1058.2,358.8 L1059.6,365.4 L1061.0,371.8 L1062.4,380.8 L1063.8,392.0 L1065.2,398.9 L1066.6,404.2 L1068.0,408.3 L1069.4,412.8 L1070.8,417.5 L1072.2,421.6 L1073.6,425.4 L1075.0,429.5 L1076.4,433.7 L1077.8,438.0 L1079.2,441.8 L1080.6,444.7 L1082.0,447.2 L1083.4,449.4 L1084.8,451.1 L1086.2,451.3 L1087.6,449.7 L1089.0,446.8 L1090.4,442.1 L1091.8,433.9 L1093.2,425.8 L1094.6,419.8 L1096.0,414.3 L1097.4,410.5 L1098.8,409.3 L1100.2,408.6 L1101.6,408.1 L1103.0,408.1 L1104.4,409.7 L1105.8,412.1 L1107.2,413.7 L1108.6,414.4 L1110.0,414.3 L1111.4,412.8 L1112.8,410.1 L1114.2,407.0 L1115.6,403.2 L1117.0,397.4 L1118.4,390.8 L1119.8,385.2 L1121.2,381.3 L1122.6,377.4 L1124.0,371.7 L1125.4,366.2 L1126.8,361.7 L1128.2,358.0 L1129.6,355.6 L1131.0,353.6 L1132.4,351.8 L1133.8,350.6 L1134.5,350.0" stroke="#7030A0"/>
<path d="M1260.3,394.6 L1261.7,392.5 L1263.1,390.1 L1264.5,387.5 L1265.9,385.0 L1267.3,382.4 L1268.7,379.8 L1270.1,377.3 L1271.5,374.7 L1272.9,371.4 L1274.3,367.8 L1275.7,362.4 L1277.1,356.4 L1278.5,352.0 L1279.9,348.3 L1281.3,345.6 L1282.7,343.8 L1284.1,342.5 L1285.5,341.5 L1286.9,340.7 L1288.3,339.9 L1289.7,338.6 L1291.1,336.8 L1292.5,334.9 L1293.9,332.7 L1295.3,329.7 L1296.7,326.6 L1298.1,324.0 L1299.5,321.6 L1300.9,319.2 L1302.3,316.9 L1303.7,314.8 L1305.1,313.0 L1306.5,311.0 L1307.9,308.5 L1309.3,305.7 L1310.7,303.1 L1312.1,300.1 L1313.5,296.9 L1314.9,294.9 L1316.3,293.8 L1317.7,292.2 L1319.1,290.3 L1320.5,288.6 L1321.9,286.8 L1323.3,284.4 L1324.7,281.1 L1326.1,278.0 L1327.5,275.2 L1328.9,273.3 L1330.3,272.5 L1331.7,271.4 L1333.1,270.1 L1334.5,268.5 L1335.9,266.1 L1337.3,263.4 L1338.7,260.5 L1340.1,258.0 L1341.5,256.2 L1342.9,254.6 L1344.3,253.4 L1345.7,252.1 L1347.1,250.8 L1348.5,250.1 L1349.9,249.3 L1351.3,248.7 L1352.7,248.3 L1354.1,248.0 L1355.5,247.9 L1356.9,247.8 L1358.3,248.0 L1359.7,248.2 L1361.1,248.2 L1362.5,248.5 L1363.9,249.6 L1365.3,250.9 L1366.7,252.2 L1368.1,254.0 L1369.5,256.5 L1370.9,259.0 L1372.3,261.4 L1373.7,264.0 L1375.1,266.2 L1376.5,268.0 L1377.9,269.7 L1379.3,270.9 L1380.7,271.5 L1382.1,271.9 L1383.5,272.3 L1384.9,272.9 L1386.3,273.4 L1387.7,273.9 L1389.1,274.2 L1390.5,274.3 L1391.9,274.4 L1393.3,274.0 L1394.7,272.7 L1396.1,271.5 L1397.5,270.4 L1398.9,268.6 L1400.3,266.4 L1401.7,264.4 L1403.1,263.4 L1404.5,262.9 L1405.9,262.2 L1407.3,261.6 L1408.7,261.7 L1410.1,262.0 L1411.5,262.4 L1412.9,262.3 L1414.3,262.2 L1415.7,263.4 L1417.1,265.7 L1418.5,268.3 L1419.9,270.1 L1421.3,270.9 L1422.7,271.7 L1424.1,272.6 L1425.5,274.3 L1426.9,277.4 L1428.3,280.8 L1429.7,284.0 L1431.1,287.6 L1432.5,292.0 L1433.9,296.4 L1435.3,301.3 L1436.7,306.9 L1438.1,312.5 L1439.5,319.0 L1440.9,327.2 L1442.3,336.0 L1443.7,344.9 L1445.1,355.8 L1446.5,372.7 L1447.9,390.8 L1449.3,402.8 L1450.7,410.8 L1452.1,422.5 L1453.5,439.7 L1454.9,454.5 L1456.3,466.5 L1457.7,475.0 L1459.1,482.3 L1460.5,487.5 L1461.9,491.1 L1463.3,496.0 L1464.7,501.4 L1466.1,504.3 L1467.5,506.8 L1468.9,509.2 L1470.3,511.5 L1471.7,513.9 L1473.1,516.6 L1474.5,519.8 L1475.9,523.2 L1477.3,526.4 L1478.7,529.0 L1480.1,531.1 L1481.5,532.3 L1482.9,532.7 L1484.3,533.6 L1485.7,534.5 L1487.1,533.3 L1488.5,530.8 L1489.9,528.0 L1491.3,525.0 L1492.7,522.5 L1494.1,520.7 L1495.5,519.1 L1496.9,518.0 L1498.3,517.7 L1499.7,517.7 L1501.1,517.6 L1502.5,517.8 L1503.9,518.3 L1505.3,519.2 L1506.7,520.4 L1508.1,521.3 L1509.5,523.4 L1510.9,525.5 L1512.3,526.4 L1513.7,526.9 L1515.1,526.1 L1516.5,523.9 L1517.9,521.8 L1519.3,519.6 L1520.7,517.0 L1522.1,514.0 L1523.5,510.3 L1524.9,506.4 L1526.3,503.4 L1527.7,501.1 L1529.1,498.8 L1530.5,497.7 L1531.9,498.9 L1533.3,500.3 L1534.7,501.3 L1536.1,502.4 L1537.5,502.4 L1538.9,501.5 L1540.3,500.6 L1541.7,500.1 L1543.1,499.4 L1544.5,497.5 L1545.9,493.6 L1546.0,492.8" stroke="#7030A0"/>
<path d="M145.5,482.9 L146.9,484.3 L148.3,485.6 L149.7,487.0 L151.1,488.5 L152.5,489.8 L153.9,491.1 L155.3,492.3 L156.7,493.5 L158.1,494.8 L159.5,495.9 L160.9,496.9 L162.3,497.8 L163.7,498.8 L165.1,499.7 L166.5,500.7 L167.9,501.6 L169.3,502.4 L170.7,503.2 L172.1,504.0 L173.5,504.9 L174.9,505.7 L176.3,506.4 L177.7,507.2 L179.1,508.0 L180.5,508.7 L181.9,509.3 L183.3,509.9 L184.7,510.6 L186.1,511.2 L187.5,511.8 L188.9,512.5 L190.3,513.1 L191.7,513.7 L193.1,514.2 L194.5,514.9 L195.9,515.5 L197.3,516.0 L198.7,516.6 L200.1,517.2 L201.5,517.8 L202.9,518.4 L204.3,518.9 L205.7,519.5 L207.1,520.0 L208.5,520.5 L209.9,521.0 L211.3,521.5 L212.7,522.2 L214.1,522.7 L215.5,523.1 L216.9,523.4 L218.3,523.9 L219.7,524.3 L221.1,524.7 L222.5,525.0 L223.9,525.3 L225.3,525.6 L226.7,526.0 L228.1,526.3 L229.5,526.6 L230.9,527.1 L232.3,527.4 L233.7,527.7 L235.1,528.1 L236.5,528.5 L237.9,528.7 L239.3,529.0 L240.7,529.3 L242.1,529.7 L243.5,529.9 L244.9,530.2 L246.3,530.5 L247.7,530.8 L249.1,531.1 L250.5,531.6 L251.9,531.9 L253.3,532.2 L254.7,532.5 L256.1,532.8 L257.5,533.0 L258.9,533.3 L260.3,533.6 L261.7,533.9 L263.1,534.3 L264.5,534.6 L265.9,534.8 L267.3,535.0 L268.7,535.3 L270.1,535.6 L271.5,536.0 L272.9,536.2 L274.3,536.4 L275.7,536.7 L277.1,537.0 L278.5,537.3 L279.9,537.5 L281.3,537.8 L282.7,538.1 L284.1,538.3 L285.5,538.6 L286.9,538.8 L288.3,539.0 L289.7,539.2 L291.1,539.4 L292.5,539.6 L293.9,539.8 L295.3,540.1 L296.7,540.3 L298.1,540.6 L299.5,540.8 L300.9,540.9 L302.3,541.0 L303.7,541.3 L305.1,541.5 L306.5,541.7 L307.9,542.0 L309.3,542.2 L310.7,542.4 L312.1,542.6 L313.5,542.8 L314.9,543.0 L316.3,543.1 L317.7,543.4 L319.1,543.6 L320.5,543.7 L321.9,544.0 L323.3,544.3 L324.7,544.4 L326.1,544.4 L327.5,544.6 L328.9,544.9 L330.3,545.1 L331.7,545.3 L333.1,545.5 L334.5,545.7 L335.9,545.9 L337.3,546.0 L338.7,546.2 L340.1,546.5 L341.5,546.7 L342.9,546.9 L344.3,547.0 L345.7,547.2 L347.1,547.4 L348.5,547.7 L349.9,547.7 L351.3,547.9 L352.7,548.1 L354.1,548.2 L355.5,548.3 L356.9,548.5 L358.3,548.6 L359.7,548.8 L361.1,549.0 L362.5,549.1 L363.9,549.1 L365.3,549.3 L366.7,549.4 L368.1,549.4 L369.5,549.5 L370.9,549.7 L372.3,549.8 L373.7,549.9 L375.1,550.0 L376.5,550.1 L377.9,550.2 L379.3,550.2 L380.7,550.3 L382.1,550.4 L383.5,550.5 L384.9,550.5 L386.3,550.6 L387.7,550.8 L389.1,551.0 L390.5,551.2 L391.9,551.2 L393.3,551.3 L394.7,551.4 L396.1,551.5 L397.5,551.7 L398.9,551.9 L400.3,551.9 L401.7,552.1 L403.1,552.3 L404.5,552.3 L405.9,552.4 L407.3,552.6 L408.7,552.7 L410.1,552.9 L411.5,553.0 L412.9,553.0 L414.3,553.0 L415.7,553.1 L417.1,553.1 L418.5,553.1 L419.9,553.1 L421.3,553.0 L422.7,552.7 L424.1,551.6 L425.5,550.0 L426.9,551.3 L428.3,553.6 L429.7,554.4 L431.1,554.8 L432.5,554.8 L433.9,554.9 L435.3,555.0 L436.7,555.0 L438.1,555.1 L439.5,555.2 L440.9,555.2 L442.3,555.1 L443.7,555.1 L445.1,555.2 L446.5,555.4 L447.9,555.4 L449.3,555.3 L450.7,555.4 L452.1,555.5 L453.5,555.5 L454.9,555.5 L456.3,555.6 L457.7,555.6 L459.1,555.6 L460.5,555.6 L461.9,555.6 L463.3,555.5 L464.7,555.5 L466.1,555.6 L467.5,555.6 L468.9,555.7 L470.3,555.7 L471.7,555.8 L473.1,555.7 L474.5,555.7 L475.9,555.7 L477.3,555.8 L478.7,555.7 L480.1,555.8 L481.5,556.0 L482.9,556.0 L484.3,555.9 L485.7,555.9 L487.1,556.0 L488.5,556.0 L489.9,556.1 L491.3,556.0 L492.7,555.9 L494.1,556.1 L495.5,556.1 L496.9,556.2 L498.3,556.3 L499.7,556.3 L501.1,556.2 L502.5,556.1 L503.9,556.1 L505.3,556.2 L506.7,556.2 L508.1,556.2 L509.5,556.2 L510.9,556.3 L512.3,556.3 L513.7,556.2 L515.1,556.1 L516.5,556.0 L517.9,555.9 L519.3,555.9 L520.7,556.0 L522.1,556.1 L523.5,556.1 L524.9,556.0 L526.3,555.9 L527.7,555.9 L529.1,555.9 L530.5,555.9 L531.9,555.8 L533.3,555.8 L534.7,555.8 L536.1,555.7 L537.5,555.7 L538.9,555.7 L540.3,555.6 L541.7,555.6 L543.1,555.7 L544.5,555.7 L545.9,555.5 L547.3,555.3 L548.7,555.3 L550.1,555.2 L551.5,555.1 L552.9,555.0 L554.3,554.9 L555.7,555.0 L557.1,555.0 L558.5,554.8 L559.9,554.7 L561.3,554.6 L562.7,554.5 L564.1,554.4 L565.5,554.4 L566.9,554.3 L568.3,554.1 L569.7,554.0 L571.1,554.0 L572.5,553.9 L573.9,553.8 L575.3,553.7 L576.7,553.6 L578.1,553.6 L579.5,553.5 L580.9,553.5 L582.3,553.2 L583.7,553.1 L585.1,553.0 L586.5,552.8 L587.9,552.2 L589.3,549.7 L590.7,549.3 L592.1,549.0 L593.5,548.8 L594.9,548.7 L596.3,548.6 L597.7,548.6 L599.1,548.4 L600.5,548.3 L601.9,548.0 L603.3,547.7 L604.7,547.5 L606.1,547.3 L607.5,547.1 L608.9,546.9 L610.3,546.6 L611.7,546.4 L613.1,546.2 L614.5,545.8 L615.9,545.4 L617.3,545.1 L618.7,544.8 L620.1,544.5 L621.5,544.1 L622.9,543.6 L624.3,543.2 L625.7,542.7 L627.1,542.0 L628.5,541.5 L629.9,541.1 L631.3,540.5 L632.7,540.0 L634.1,539.4 L635.5,538.8 L636.9,538.3 L638.3,537.7 L639.7,537.2 L641.1,536.7 L642.5,536.2 L643.9,535.7 L645.3,535.0 L646.7,534.3 L648.1,533.9 L649.5,533.3 L650.9,532.8 L652.3,532.1 L653.7,531.3 L655.1,530.7 L656.5,530.0 L657.9,529.3 L659.3,528.4 L660.7,527.5 L662.1,527.1 L663.5,526.6 L664.9,525.8 L666.3,525.2 L667.7,524.7 L669.1,524.3 L670.5,523.7 L671.9,522.9 L673.3,522.4 L674.7,521.9 L676.1,521.3 L677.5,520.9 L678.9,520.7 L680.3,520.2 L681.7,519.3 L683.1,518.6 L684.5,518.2 L685.9,517.9 L687.3,517.4 L688.7,517.1 L690.1,516.8 L691.5,516.1 L692.9,515.4 L694.3,515.0 L695.7,514.6 L697.1,514.1 L698.5,513.7 L699.9,513.4 L701.3,512.8 L702.7,512.3 L704.1,511.9 L705.5,511.6 L706.9,511.2 L708.3,511.0 L709.7,510.5 L711.1,509.9 L712.5,509.7 L713.9,509.6 L715.3,509.2 L716.7,508.6 L718.1,508.1 L719.5,507.4 L720.9,506.9 L722.3,506.7 L723.7,506.4 L725.1,505.9 L726.5,505.4 L727.9,504.9 L729.3,504.4 L730.7,504.1 L732.1,503.7 L733.5,503.2 L734.9,502.6 L736.3,501.8 L737.7,501.3 L739.1,501.1 L740.5,500.5 L741.9,499.2 L743.3,497.6 L744.7,495.9 L746.1,494.3 L747.5,492.4 L748.9,490.1 L750.3,488.3 L751.7,486.5 L753.1,484.5 L754.5,482.8 L755.9,481.3 L757.3,479.9 L758.7,478.7 L760.1,477.3 L761.5,475.8 L762.9,474.8 L764.3,473.5 L765.7,472.1 L767.1,470.9 L768.5,469.5 L769.9,468.3 L771.3,467.1 L772.7,465.6 L774.1,464.6 L775.5,463.6 L776.9,462.2 L778.3,461.0 L779.7,459.9 L781.1,458.6 L782.5,457.4 L783.9,456.3 L785.3,455.4 L786.7,454.5 L788.1,453.1 L789.5,451.9 L790.9,451.0 L792.3,450.1 L793.7,449.2 L795.1,448.1 L796.5,446.9 L797.9,445.7 L799.3,444.9 L800.7,444.0 L802.1,443.0 L803.5,441.6 L804.9,440.6 L806.3,440.2 L807.7,439.3 L809.1,438.1 L810.5,437.1 L811.9,435.9 L813.3,434.9 L814.5,434.2" stroke="#FFFF00"/>
<path d="M896.8,410.9 L898.2,409.9 L899.6,409.2 L901.0,408.8 L902.4,408.5 L903.8,408.0 L905.2,407.3 L906.6,406.5 L908.0,405.6 L909.4,403.5 L910.8,400.8 L912.2,398.8 L913.6,397.1 L915.0,395.1 L916.4,392.6 L917.8,389.3 L919.2,385.5 L920.6,381.4 L922.0,377.7 L923.4,374.9 L924.8,372.6 L926.2,370.2 L927.6,367.7 L929.0,365.5 L930.4,363.6 L931.8,361.4 L933.2,358.9 L934.6,356.4 L936.0,353.8 L937.4,351.2 L938.8,348.7 L940.2,346.0 L941.6,343.3 L943.0,341.1 L944.4,338.9 L945.8,336.0 L947.2,333.1 L948.6,330.6 L950.0,328.2 L951.4,325.6 L952.8,322.6 L954.2,320.0 L955.6,317.6 L957.0,315.1 L958.4,312.9 L959.8,310.8 L961.2,308.6 L962.6,306.3 L964.0,303.6 L965.4,300.8 L966.8,298.4 L968.2,296.3 L969.6,294.2 L971.0,291.9 L972.4,290.1 L973.8,288.4 L975.2,286.4 L976.6,284.3 L978.0,282.2 L979.4,280.1 L980.8,278.0 L982.2,276.0 L983.6,274.4 L985.0,272.7 L986.4,270.4 L987.8,267.9 L989.2,265.8 L990.6,263.9 L992.0,261.8 L993.4,259.8 L994.8,257.8 L996.2,255.8 L997.6,254.2 L999.0,252.4 L1000.4,250.6 L1001.8,248.9 L1003.2,247.1 L1004.6,245.4 L1006.0,243.7 L1007.4,242.1 L1008.8,240.6 L1010.2,239.2 L1011.6,238.0 L1013.0,237.2 L1014.4,236.6 L1015.8,236.1 L1017.2,235.4 L1018.6,234.3 L1020.0,233.3 L1021.4,232.4 L1022.8,231.8 L1024.2,231.2 L1025.6,230.2 L1027.0,229.6 L1028.4,229.5 L1029.8,228.9 L1031.2,228.0 L1032.6,227.6 L1034.0,227.4 L1035.4,226.8 L1036.8,226.5 L1038.2,226.9 L1039.6,227.7 L1041.0,229.4 L1042.4,231.7 L1043.8,234.6 L1045.2,238.0 L1046.6,241.2 L1048.0,244.5 L1049.4,248.4 L1050.8,252.1 L1052.2,256.1 L1053.6,261.6 L1055.0,269.8 L1056.4,282.4 L1057.8,293.4 L1059.2,303.8 L1060.6,313.1 L1062.0,322.0 L1063.4,330.9 L1064.8,339.0 L1066.2,346.2 L1067.6,352.8 L1069.0,359.5 L1070.4,367.1 L1071.8,375.4 L1073.2,381.8 L1074.6,387.5 L1076.0,392.7 L1077.4,397.9 L1078.8,402.9 L1080.2,406.9 L1081.6,411.0 L1083.0,415.5 L1084.4,418.7 L1085.8,419.5 L1087.2,417.4 L1088.6,413.0 L1090.0,407.2 L1091.4,397.8 L1092.8,388.1 L1094.2,378.9 L1095.6,370.2 L1097.0,364.2 L1098.4,361.9 L1099.8,360.5 L1101.2,360.1 L1102.6,361.2 L1104.0,363.3 L1105.4,365.5 L1106.8,367.2 L1108.2,368.1 L1109.6,368.6 L1111.0,368.8 L1112.4,368.4 L1113.8,365.7 L1115.2,361.4 L1116.6,356.2 L1118.0,348.2 L1119.4,339.5 L1120.8,331.0 L1122.2,322.7 L1123.6,315.1 L1125.0,308.0 L1126.4,301.6 L1127.8,295.2 L1129.2,289.8 L1130.6,287.0 L1132.0,284.8 L1133.4,283.7 L1134.5,283.7" stroke="#FFFF00"/>
<path d="M1260.3,369.2 L1261.7,365.0 L1263.1,361.4 L1264.5,357.8 L1265.9,353.7 L1267.3,350.0 L1268.7,346.1 L1270.1,341.8 L1271.5,337.6 L1272.9,333.0 L1274.3,328.5 L1275.7,324.5 L1277.1,320.5 L1278.5,316.4 L1279.9,313.1 L1281.3,310.0 L1282.7,306.2 L1284.1,302.3 L1285.5,298.7 L1286.9,295.3 L1288.3,291.8 L1289.7,288.0 L1291.1,284.1 L1292.5,280.3 L1293.9,276.8 L1295.3,273.6 L1296.7,270.4 L1298.1,266.9 L1299.5,263.2 L1300.9,259.4 L1302.3,255.4 L1303.7,251.7 L1305.1,248.2 L1306.5,244.6 L1307.9,241.5 L1309.3,238.6 L1310.7,235.1 L1312.1,231.4 L1313.5,227.4 L1314.9,223.6 L1316.3,220.2 L1317.7,217.3 L1319.1,214.5 L1320.5,211.5 L1321.9,207.9 L1323.3,204.7 L1324.7,201.8 L1326.1,198.8 L1327.5,195.9 L1328.9,193.3 L1330.3,190.9 L1331.7,188.1 L1333.1,185.2 L1334.5,182.6 L1335.9,180.1 L1337.3,177.7 L1338.7,174.9 L1340.1,172.0 L1341.5,169.2 L1342.9,166.3 L1344.3,163.5 L1345.7,161.2 L1347.1,159.3 L1348.5,157.1 L1349.9,155.2 L1351.3,153.2 L1352.7,151.1 L1354.1,150.0 L1355.5,150.0 L1356.9,150.2 L1358.3,150.1 L1359.7,149.9 L1361.1,149.8 L1362.5,150.3 L1363.9,151.0 L1365.3,151.7 L1366.7,153.4 L1368.1,157.3 L1369.5,161.6 L1370.9,164.9 L1372.3,168.3 L1373.7,171.0 L1375.1,172.9 L1376.5,174.3 L1377.9,175.3 L1379.3,176.4 L1380.7,177.3 L1382.1,178.3 L1383.5,179.5 L1384.9,180.6 L1386.3,181.5 L1387.7,182.5 L1389.1,183.3 L1390.5,183.0 L1391.9,182.3 L1393.3,181.9 L1394.7,181.5 L1396.1,180.8 L1397.5,179.8 L1398.9,177.2 L1400.3,174.1 L1401.7,171.5 L1403.1,169.7 L1404.5,168.5 L1405.9,168.2 L1407.3,168.3 L1408.7,168.2 L1410.1,167.5 L1411.5,166.9 L1412.9,167.3 L1414.3,168.7 L1415.7,169.8 L1417.1,170.3 L1418.5,171.4 L1419.9,173.6 L1421.3,175.8 L1422.7,178.1 L1424.1,182.1 L1425.5,187.4 L1426.9,192.6 L1428.3,196.9 L1429.7,200.8 L1431.1,205.0 L1432.5,208.9 L1433.9,213.8 L1435.3,220.3 L1436.7,227.8 L1438.1,236.1 L1439.5,244.8 L1440.9,253.8 L1442.3,265.3 L1443.7,280.2 L1445.1,303.0 L1446.5,326.7 L1447.9,342.0 L1449.3,358.8 L1450.7,377.7 L1452.1,394.6 L1453.5,411.4 L1454.9,430.2 L1456.3,448.5 L1457.7,463.0 L1459.1,473.3 L1460.5,481.4 L1461.9,487.2 L1463.3,491.5 L1464.7,495.2 L1466.1,498.4 L1467.5,501.0 L1468.9,503.9 L1470.3,507.0 L1471.7,510.4 L1473.1,514.9 L1474.5,520.3 L1475.9,525.6 L1477.3,530.2 L1478.7,534.4 L1480.1,537.6 L1481.5,539.5 L1482.9,540.8 L1484.3,541.0 L1485.7,539.9 L1487.1,536.6 L1488.5,532.5 L1489.9,529.2 L1491.3,526.3 L1492.7,524.0 L1494.1,522.6 L1495.5,521.2 L1496.9,520.0 L1498.3,519.8 L1499.7,520.4 L1501.1,521.0 L1502.5,521.7 L1503.9,523.2 L1505.3,525.5 L1506.7,527.5 L1508.1,530.5 L1509.5,533.7 L1510.9,536.7 L1512.3,540.4 L1513.7,541.8 L1515.1,539.5 L1516.5,536.1 L1517.9,533.4 L1519.3,530.6 L1520.7,526.3 L1522.1,522.1 L1523.5,518.0 L1524.9,511.8 L1526.3,506.9 L1527.7,504.8 L1529.1,503.3 L1530.5,502.8 L1531.9,502.5 L1533.3,502.4 L1534.7,502.0 L1536.1,501.6 L1537.5,501.9 L1538.9,503.5 L1540.3,504.9 L1541.7,505.0 L1543.1,503.0 L1544.5,500.0 L1545.9,498.6 L1546.0,499.6" stroke="#FFFF00"/>
<path d="M145.5,504.8 L146.9,507.0 L148.3,509.1 L149.7,510.8 L151.1,512.2 L152.5,513.3 L153.9,514.2 L155.3,515.1 L156.7,515.9 L158.1,516.6 L159.5,517.2 L160.9,517.9 L162.3,518.5 L163.7,519.2 L165.1,519.8 L166.5,520.4 L167.9,521.0 L169.3,521.5 L170.7,521.9 L172.1,522.5 L173.5,523.0 L174.9,523.4 L176.3,523.8 L177.7,524.4 L179.1,524.9 L180.5,525.3 L181.9,525.7 L183.3,526.2 L184.7,526.6 L186.1,527.0 L187.5,527.4 L188.9,527.9 L190.3,528.2 L191.7,528.6 L193.1,529.0 L194.5,529.4 L195.9,529.8 L197.3,530.3 L198.7,530.7 L200.1,531.2 L201.5,531.6 L202.9,532.0 L204.3,532.4 L205.7,532.8 L207.1,533.2 L208.5,533.5 L209.9,533.9 L211.3,534.2 L212.7,534.5 L214.1,534.8 L215.5,535.1 L216.9,535.3 L218.3,535.7 L219.7,536.0 L221.1,536.3 L222.5,536.6 L223.9,536.9 L225.3,537.2 L226.7,537.4 L228.1,537.7 L229.5,537.9 L230.9,538.2 L232.3,538.5 L233.7,538.8 L235.1,539.1 L236.5,539.3 L237.9,539.5 L239.3,539.6 L240.7,539.8 L242.1,540.2 L243.5,540.4 L244.9,540.6 L246.3,540.9 L247.7,541.2 L249.1,541.4 L250.5,541.6 L251.9,541.8 L253.3,541.9 L254.7,542.2 L256.1,542.4 L257.5,542.7 L258.9,542.9 L260.3,543.1 L261.7,543.3 L263.1,543.6 L264.5,543.9 L265.9,544.1 L267.3,544.4 L268.7,544.5 L270.1,544.7 L271.5,544.9 L272.9,545.2 L274.3,545.3 L275.7,545.4 L277.1,545.7 L278.5,546.0 L279.9,546.2 L281.3,546.3 L282.7,546.5 L284.1,546.7 L285.5,546.8 L286.9,546.9 L288.3,547.0 L289.7,547.3 L291.1,547.4 L292.5,547.6 L293.9,547.8 L295.3,547.9 L296.7,548.0 L298.1,548.1 L299.5,548.3 L300.9,548.5 L302.3,548.7 L303.7,548.8 L305.1,548.9 L306.5,549.0 L307.9,549.2 L309.3,549.3 L310.7,549.4 L312.1,549.6 L313.5,549.7 L314.9,549.6 L316.3,549.7 L317.7,549.9 L319.1,550.2 L320.5,550.3 L321.9,550.4 L323.3,550.6 L324.7,550.7 L326.1,550.9 L327.5,551.0 L328.9,551.2 L330.3,551.3 L331.7,551.5 L333.1,551.6 L334.5,551.7 L335.9,551.9 L337.3,552.1 L338.7,552.1 L340.1,552.3 L341.5,552.4 L342.9,552.6 L344.3,552.8 L345.7,553.0 L347.1,553.1 L348.5,553.3 L349.9,553.5 L351.3,553.6 L352.7,553.6 L354.1,553.7 L355.5,553.8 L356.9,554.0 L358.3,554.2 L359.7,554.3 L361.1,554.4 L362.5,554.4 L363.9,554.5 L365.3,554.6 L366.7,554.7 L368.1,554.8 L369.5,554.9 L370.9,554.8 L372.3,554.8 L373.7,555.0 L375.1,555.0 L376.5,555.0 L377.9,555.2 L379.3,555.3 L380.7,555.4 L382.1,555.4 L383.5,555.7 L384.9,555.8 L386.3,555.8 L387.7,555.9 L389.1,556.0 L390.5,556.0 L391.9,556.2 L393.3,556.2 L394.7,556.3 L396.1,556.4 L397.5,556.5 L398.9,556.7 L400.3,556.9 L401.7,557.1 L403.1,557.2 L404.5,557.4 L405.9,557.5 L407.3,557.6 L408.7,557.7 L410.1,557.8 L411.5,557.9 L412.9,558.0 L414.3,558.1 L415.7,558.1 L417.1,558.1 L418.5,558.2 L419.9,558.2 L421.3,558.0 L422.7,557.8 L424.1,556.8 L425.5,555.4 L426.9,556.6 L428.3,558.7 L429.7,559.3 L431.1,559.6 L432.5,559.8 L433.9,559.7 L435.3,559.7 L436.7,559.9 L438.1,559.9 L439.5,560.0 L440.9,560.1 L442.3,560.2 L443.7,560.2 L445.1,560.3 L446.5,560.3 L447.9,560.2 L449.3,560.3 L450.7,560.4 L452.1,560.5 L453.5,560.6 L454.9,560.6 L456.3,560.6 L457.7,560.5 L459.1,560.5 L460.5,560.5 L461.9,560.5 L463.3,560.6 L464.7,560.6 L466.1,560.6 L467.5,560.6 L468.9,560.6 L470.3,560.6 L471.7,560.5 L473.1,560.6 L474.5,560.5 L475.9,560.5 L477.3,560.6 L478.7,560.6 L480.1,560.6 L481.5,560.6 L482.9,560.6 L484.3,560.6 L485.7,560.6 L487.1,560.6 L488.5,560.6 L489.9,560.6 L491.3,560.5 L492.7,560.5 L494.1,560.5 L495.5,560.6 L496.9,560.7 L498.3,560.7 L499.7,560.6 L501.1,560.5 L502.5,560.4 L503.9,560.4 L505.3,560.5 L506.7,560.5 L508.1,560.4 L509.5,560.4 L510.9,560.5 L512.3,560.4 L513.7,560.4 L515.1,560.5 L516.5,560.5 L517.9,560.4 L519.3,560.3 L520.7,560.3 L522.1,560.3 L523.5,560.1 L524.9,560.0 L526.3,560.1 L527.7,560.1 L529.1,560.0 L530.5,559.9 L531.9,559.9 L533.3,559.9 L534.7,559.9 L536.1,559.9 L537.5,559.9 L538.9,559.9 L540.3,559.8 L541.7,559.7 L543.1,559.7 L544.5,559.7 L545.9,559.6 L547.3,559.6 L548.7,559.5 L550.1,559.5 L551.5,559.5 L552.9,559.5 L554.3,559.5 L555.7,559.5 L557.1,559.6 L558.5,559.6 L559.9,559.5 L561.3,559.3 L562.7,559.2 L564.1,559.2 L565.5,559.1 L566.9,558.9 L568.3,558.8 L569.7,558.7 L571.1,558.6 L572.5,558.4 L573.9,558.3 L575.3,558.3 L576.7,558.4 L578.1,558.3 L579.5,558.3 L580.9,558.3 L582.3,558.3 L583.7,558.1 L585.1,557.9 L586.5,557.9 L587.9,557.6 L589.3,555.5 L590.7,554.9 L592.1,554.5 L593.5,554.2 L594.9,553.9 L596.3,553.7 L597.7,553.5 L599.1,553.2 L600.5,552.8 L601.9,552.5 L603.3,552.2 L604.7,551.7 L606.1,551.2 L607.5,550.9 L608.9,550.5 L610.3,550.0 L611.7,549.6 L613.1,549.1 L614.5,548.7 L615.9,548.3 L617.3,547.8 L618.7,547.2 L620.1,546.6 L621.5,546.1 L622.9,545.7 L624.3,545.2 L625.7,544.6 L627.1,544.0 L628.5,543.4 L629.9,542.9 L631.3,542.2 L632.7,541.5 L634.1,541.0 L635.5,540.5 L636.9,540.0 L638.3,539.2 L639.7,538.6 L641.1,538.1 L642.5,537.4 L643.9,536.8 L645.3,536.2 L646.7,535.6 L648.1,535.2 L649.5,534.8 L650.9,534.4 L652.3,533.9 L653.7,533.2 L655.1,532.6 L656.5,532.0 L657.9,531.3 L659.3,530.6 L660.7,530.1 L662.1,529.4 L663.5,528.6 L664.9,527.8 L666.3,527.0 L667.7,526.0 L669.1,525.1 L670.5,523.9 L671.9,522.5 L673.3,521.2 L674.7,520.2 L676.1,519.3 L677.5,518.7 L678.9,518.5 L680.3,518.0 L681.7,517.3 L683.1,516.6 L684.5,516.1 L685.9,515.5 L687.3,515.3 L688.7,515.2 L690.1,514.7 L691.5,514.0 L692.9,513.6 L694.3,513.5 L695.7,513.1 L697.1,512.7 L698.5,512.3 L699.9,511.7 L701.3,511.2 L702.7,511.0 L704.1,510.5 L705.5,510.0 L706.9,509.6 L708.3,509.3 L709.7,509.0 L711.1,508.6 L712.5,508.3 L713.9,507.9 L715.3,507.3 L716.7,506.6 L718.1,506.0 L719.5,505.6 L720.9,505.6 L722.3,505.2 L723.7,504.2 L725.1,503.4 L726.5,503.0 L727.9,502.4 L729.3,501.6 L730.7,500.8 L732.1,499.9 L733.5,499.2 L734.9,498.6 L736.3,497.6 L737.7,496.2 L739.1,494.7 L740.5,493.4 L741.9,491.9 L743.3,490.1 L744.7,488.2 L746.1,486.5 L747.5,484.8 L748.9,482.7 L750.3,480.8 L751.7,479.3 L753.1,477.8 L754.5,476.2 L755.9,474.4 L757.3,472.7 L758.7,471.0 L760.1,469.3 L761.5,467.8 L762.9,466.2 L764.3,464.8 L765.7,463.3 L767.1,461.6 L768.5,460.0 L769.9,458.6 L771.3,457.3 L772.7,455.7 L774.1,454.0 L775.5,452.6 L776.9,451.1 L778.3,449.6 L779.7,448.4 L781.1,447.1 L782.5,445.8 L783.9,444.4 L785.3,442.8 L786.7,441.2 L788.1,439.7 L789.5,438.5 L790.9,437.3 L792.3,435.9 L793.7,434.5 L795.1,432.9 L796.5,431.7 L797.9,430.8 L799.3,429.6 L800.7,428.2 L802.1,427.0 L803.5,425.8 L804.9,424.3 L806.3,422.9 L807.7,421.9 L809.1,421.0 L810.5,419.8 L811.9,418.3 L813.3,417.0 L814.5,416.2" stroke="#000000"/>
<path d="M897.2,387.7 L898.6,385.8 L900.0,384.3 L901.4,383.0 L902.8,381.9 L904.2,381.4 L905.6,380.9 L907.0,379.8 L908.4,377.9 L909.8,375.2 L911.2,369.4 L912.6,362.7 L914.0,358.6 L915.4,355.4 L916.8,352.4 L918.2,350.1 L919.6,348.0 L921.0,345.7 L922.4,342.7 L923.8,339.7 L925.2,337.0 L926.6,334.3 L928.0,331.3 L929.4,328.6 L930.8,326.0 L932.2,323.2 L933.6,320.0 L935.0,317.1 L936.4,314.3 L937.8,311.6 L939.2,309.0 L940.6,306.1 L942.0,302.9 L943.4,300.2 L944.8,297.4 L946.2,294.6 L947.6,292.0 L949.0,289.2 L950.4,286.3 L951.8,283.8 L953.2,281.1 L954.6,278.0 L956.0,275.3 L957.4,273.0 L958.8,270.2 L960.2,267.3 L961.6,264.5 L963.0,261.6 L964.4,258.1 L965.8,254.4 L967.2,251.1 L968.6,248.1 L970.0,245.3 L971.4,242.9 L972.8,240.7 L974.2,238.5 L975.6,235.9 L977.0,232.8 L978.4,229.6 L979.8,226.9 L981.2,224.1 L982.6,221.2 L984.0,218.8 L985.4,216.4 L986.8,213.7 L988.2,211.0 L989.6,208.3 L991.0,205.9 L992.4,203.9 L993.8,202.2 L995.2,200.3 L996.6,198.5 L998.0,197.0 L999.4,195.2 L1000.8,193.2 L1002.2,191.1 L1003.6,189.2 L1005.0,187.8 L1006.4,186.3 L1007.8,184.2 L1009.2,182.3 L1010.6,180.8 L1012.0,179.4 L1013.4,177.8 L1014.8,176.0 L1016.2,174.3 L1017.6,173.4 L1019.0,172.8 L1020.4,171.8 L1021.8,170.8 L1023.2,169.7 L1024.6,168.8 L1026.0,168.4 L1027.4,167.8 L1028.8,166.8 L1030.2,166.1 L1031.6,165.5 L1033.0,164.8 L1034.4,164.1 L1035.8,163.2 L1037.2,162.7 L1038.6,163.2 L1040.0,164.0 L1041.4,165.2 L1042.8,167.0 L1044.2,170.7 L1045.6,175.6 L1047.0,180.2 L1048.4,184.8 L1049.8,190.2 L1051.2,197.1 L1052.6,204.9 L1054.0,212.7 L1055.4,221.1 L1056.8,230.7 L1058.2,241.4 L1059.6,252.9 L1061.0,266.0 L1062.4,284.5 L1063.8,296.5 L1065.2,305.1 L1066.6,312.1 L1068.0,319.5 L1069.4,328.1 L1070.8,337.0 L1072.2,345.9 L1073.6,354.2 L1075.0,362.0 L1076.4,369.1 L1077.8,375.4 L1079.2,381.0 L1080.6,385.7 L1082.0,389.3 L1083.4,392.6 L1084.8,395.2 L1086.2,395.9 L1087.6,392.0 L1089.0,386.2 L1090.4,381.3 L1091.8,372.5 L1093.2,359.3 L1094.6,346.8 L1096.0,337.1 L1097.4,329.4 L1098.8,327.3 L1100.2,326.8 L1101.6,327.4 L1103.0,328.9 L1104.4,330.6 L1105.8,332.2 L1107.2,334.2 L1108.6,336.3 L1110.0,337.1 L1111.4,335.9 L1112.8,333.0 L1114.2,328.2 L1115.6,320.3 L1117.0,311.4 L1118.4,300.5 L1119.8,290.9 L1121.2,283.2 L1122.6,274.1 L1124.0,261.5 L1125.4,249.9 L1126.8,241.0 L1128.2,235.0 L1129.6,231.9 L1131.0,230.5 L1132.4,229.1 L1133.8,228.2 L1134.5,228.2" stroke="#000000"/>
<path d="M1260.3,340.1 L1261.7,333.9 L1263.1,327.9 L1264.5,322.9 L1265.9,318.7 L1267.3,314.9 L1268.7,312.6 L1270.1,311.5 L1271.5,310.2 L1272.9,307.8 L1274.3,304.0 L1275.7,295.1 L1277.1,288.8 L1278.5,285.0 L1279.9,280.4 L1281.3,274.7 L1282.7,266.2 L1284.1,256.2 L1285.5,249.8 L1286.9,244.7 L1288.3,240.2 L1289.7,236.3 L1291.1,232.7 L1292.5,229.2 L1293.9,225.1 L1295.3,220.6 L1296.7,216.3 L1298.1,212.0 L1299.5,207.7 L1300.9,203.7 L1302.3,199.6 L1303.7,195.5 L1305.1,191.4 L1306.5,187.6 L1307.9,184.4 L1309.3,181.5 L1310.7,178.5 L1312.1,175.1 L1313.5,171.4 L1314.9,167.9 L1316.3,164.3 L1317.7,160.2 L1319.1,155.8 L1320.5,151.1 L1321.9,146.4 L1323.3,142.2 L1324.7,138.2 L1326.1,134.5 L1327.5,131.1 L1328.9,127.7 L1330.3,124.4 L1331.7,121.3 L1333.1,118.1 L1334.5,114.7 L1335.9,111.3 L1337.3,107.6 L1338.7,103.7 L1340.1,100.2 L1341.5,96.7 L1342.9,93.6 L1344.3,90.7 L1345.7,87.4 L1347.1,84.6 L1348.5,82.6 L1349.9,81.0 L1351.3,79.9 L1352.7,78.9 L1354.1,77.9 L1355.5,77.6 L1356.9,77.4 L1358.3,76.9 L1359.7,77.1 L1361.1,77.5 L1362.5,77.8 L1363.9,78.4 L1365.3,79.9 L1366.7,84.0 L1368.1,88.7 L1369.5,92.8 L1370.9,96.3 L1372.3,99.1 L1373.7,101.8 L1375.1,104.3 L1376.5,106.5 L1377.9,108.5 L1379.3,110.1 L1380.7,111.4 L1382.1,112.4 L1383.5,113.5 L1384.9,114.4 L1386.3,115.1 L1387.7,115.8 L1389.1,116.1 L1390.5,116.3 L1391.9,116.3 L1393.3,115.7 L1394.7,115.0 L1396.1,114.3 L1397.5,113.9 L1398.9,111.6 L1400.3,107.6 L1401.7,103.5 L1403.1,100.8 L1404.5,100.9 L1405.9,100.4 L1407.3,100.2 L1408.7,100.6 L1410.1,100.5 L1411.5,99.9 L1412.9,99.3 L1414.3,99.1 L1415.7,100.6 L1417.1,103.5 L1418.5,106.3 L1419.9,108.6 L1421.3,111.4 L1422.7,114.5 L1424.1,118.3 L1425.5,122.7 L1426.9,126.8 L1428.3,130.7 L1429.7,135.2 L1431.1,140.8 L1432.5,146.9 L1433.9,154.1 L1435.3,162.7 L1436.7,172.5 L1438.1,181.4 L1439.5,190.0 L1440.9,199.0 L1442.3,210.2 L1443.7,224.4 L1445.1,238.4 L1446.5,256.1 L1447.9,276.0 L1449.3,315.0 L1450.7,335.2 L1452.1,350.5 L1453.5,368.5 L1454.9,388.6 L1456.3,425.9 L1457.7,441.6 L1459.1,456.5 L1460.5,469.0 L1461.9,478.7 L1463.3,485.4 L1464.7,489.5 L1466.1,492.8 L1467.5,496.3 L1468.9,498.3 L1470.3,499.9 L1471.7,502.9 L1473.1,506.5 L1474.5,510.4 L1475.9,516.0 L1477.3,522.0 L1478.7,527.3 L1480.1,532.7 L1481.5,537.8 L1482.9,541.1 L1484.3,542.9 L1485.7,544.2 L1487.1,544.1 L1488.5,542.2 L1489.9,538.8 L1491.3,533.3 L1492.7,527.2 L1494.1,523.8 L1495.5,520.0 L1496.9,517.0 L1498.3,516.2 L1499.7,515.4 L1501.1,515.1 L1502.5,516.7 L1503.9,519.6 L1505.3,522.6 L1506.7,525.4 L1508.1,527.9 L1509.5,529.7 L1510.9,531.5 L1512.3,533.5 L1513.7,534.0 L1515.1,532.2 L1516.5,529.9 L1517.9,527.8 L1519.3,526.1 L1520.7,524.6 L1522.1,521.5 L1523.5,512.1 L1524.9,504.4 L1526.3,501.6 L1527.7,499.7 L1529.1,499.6 L1530.5,500.8 L1531.9,502.9 L1533.3,505.2 L1534.7,507.2 L1536.1,508.9 L1537.5,509.9 L1538.9,510.1 L1540.3,509.8 L1541.7,510.2 L1543.1,509.9 L1544.5,508.5 L1545.9,501.8 L1546.8,495.9" stroke="#000000"/>
</g>
<rect x="814" y="14" width="83.1" height="555.8" fill="#F7F7F7"/>
<rect x="1135.1" y="16" width="124.9" height="553.8" fill="#F7F7F7"/>
<g>
<rect x="833.5" y="569.8" width="2.5" height="2.2" fill="#10B0F0"/>
<rect x="837" y="569.8" width="7" height="2.2" fill="#FFFF00"/>
<rect x="844.5" y="569.8" width="9.5" height="2.2" fill="#7030A0"/>
<rect x="854" y="569.8" width="4" height="2.2" fill="#10B0F0"/>
<rect x="858" y="569.8" width="6" height="2.2" fill="#1A20D4"/>
<rect x="864" y="569.8" width="4" height="2.2" fill="#0FA850"/>
<rect x="868" y="569.8" width="5" height="2.2" fill="#FF0808"/>
<rect x="1192.5" y="569.6" width="4" height="2" fill="#1A20D4"/>
<rect x="1201" y="569.4" width="5" height="2.2" fill="#0FA850"/>
<rect x="1169.2" y="568.9" width="3.6" height="1.4" fill="#000"/>
<rect x="1210.3" y="568.9" width="3.6" height="1.4" fill="#000"/>
<rect x="1251.5" y="568.9" width="3.6" height="1.4" fill="#000"/>
<rect x="882.8" y="569.1" width="3.6" height="1.2" fill="#000"/>
</g>
<g class="legend">
<line x1="365" y1="79.0" x2="441" y2="79.0" stroke="#0FA850" stroke-width="4.2" stroke-linecap="round"/>
<text x="454.2" y="93.9">crude oil-0.5mm</text>
<line x1="365" y1="125.2" x2="441" y2="125.2" stroke="#F9BF14" stroke-width="4.2" stroke-linecap="round"/>
<text x="454.2" y="140.1">crude oil-1.5mm</text>
<line x1="365" y1="171.3" x2="441" y2="171.3" stroke="#FF0808" stroke-width="4.2" stroke-linecap="round"/>
<text x="454.2" y="186.2">crude oil-2.5mm</text>
<line x1="365" y1="217.4" x2="441" y2="217.4" stroke="#1A20D4" stroke-width="4.2" stroke-linecap="round"/>
<text x="454.2" y="232.3">crude oil-3.5mm</text>
<line x1="365" y1="263.6" x2="441" y2="263.6" stroke="#10B0F0" stroke-width="4.2" stroke-linecap="round"/>
<text x="456.0" y="278.5">WO-0.5mm</text>
<line x1="365" y1="309.8" x2="441" y2="309.8" stroke="#7030A0" stroke-width="4.2" stroke-linecap="round"/>
<text x="456.0" y="324.6">WO-1.5mm</text>
<line x1="365" y1="355.9" x2="441" y2="355.9" stroke="#FFFF00" stroke-width="4.2" stroke-linecap="round"/>
<text x="456.0" y="370.8">WO-2.5mm</text>
<line x1="365" y1="402.1" x2="441" y2="402.1" stroke="#000000" stroke-width="4.2" stroke-linecap="round"/>
<text x="456.0" y="416.9">WO-3.5mm</text>
</g>
<g stroke="#FF0000" fill="none" stroke-dasharray="16.2 10.4">
<line x1="547.5" y1="569.9" x2="206.5" y2="569.9" stroke-width="4" stroke-dashoffset="1.1"/>
<line x1="206.5" y1="569.9" x2="206.5" y2="2.4" stroke-width="5" stroke-dashoffset="22.90"/>
<line x1="206.5" y1="2.4" x2="547.5" y2="2.4" stroke-width="4.4" stroke-dashoffset="5.20"/>
<line x1="547.5" y1="2.4" x2="547.5" y2="569.9" stroke-width="5" stroke-dashoffset="0.40"/>
</g>
<circle cx="206.5" cy="2.6" r="2.4" fill="#FF0000"/>
<circle cx="547.5" cy="2.6" r="2.2" fill="#FF0000"/>
<rect x="545.0" y="567.9" width="5" height="4" fill="#FF0000"/>
<g class="tick" text-anchor="middle">
<text transform="translate(145.0 632) scale(1 1.04)">360</text>
<text transform="translate(227.1 632) scale(1 1.04)">480</text>
<text transform="translate(309.3 632) scale(1 1.04)">600</text>
<text transform="translate(391.4 632) scale(1 1.04)">720</text>
<text transform="translate(473.5 632) scale(1 1.04)">840</text>
<text transform="translate(555.7 632) scale(1 1.04)">960</text>
<text transform="translate(637.8 632) scale(1 1.04)">1080</text>
<text transform="translate(719.9 632) scale(1 1.04)">1200</text>
<text transform="translate(802.1 632) scale(1 1.04)">1320</text>
<text transform="translate(884.2 632) scale(1 1.04)">1440</text>
<text transform="translate(966.4 632) scale(1 1.04)">1560</text>
<text transform="translate(1048.5 632) scale(1 1.04)">1680</text>
<text transform="translate(1130.6 632) scale(1 1.04)">1800</text>
<text transform="translate(1212.8 632) scale(1 1.04)">1920</text>
<text transform="translate(1294.9 632) scale(1 1.04)">2040</text>
<text transform="translate(1377.0 632) scale(1 1.04)">2160</text>
<text transform="translate(1459.2 632) scale(1 1.04)">2280</text>
<text transform="translate(1541.3 632) scale(1 1.04)">2400</text>
</g>
<g class="tick" text-anchor="end">
<text style="font-size:37.2px" transform="translate(118.3 110.3) scale(1 1.06)">0.03</text>
<text style="font-size:37.2px" transform="translate(118.3 269.3) scale(1 1.06)">0.02</text>
<text style="font-size:37.2px" transform="translate(118.3 427.2) scale(1 1.06)">0.01</text>
<text style="font-size:37.2px" transform="translate(118.3 585.4) scale(1 1.06)">0</text>
</g>
<text class="title" text-anchor="middle" x="819.6" y="674">Wavelength/nm</text>
<text class="title" text-anchor="middle" transform="translate(33.4 295.6) scale(1.06 1) rotate(-90)">Reflectance/sr<tspan style="font-size:28px" dy="-10">-1</tspan></text>
</svg>
</body></html>
